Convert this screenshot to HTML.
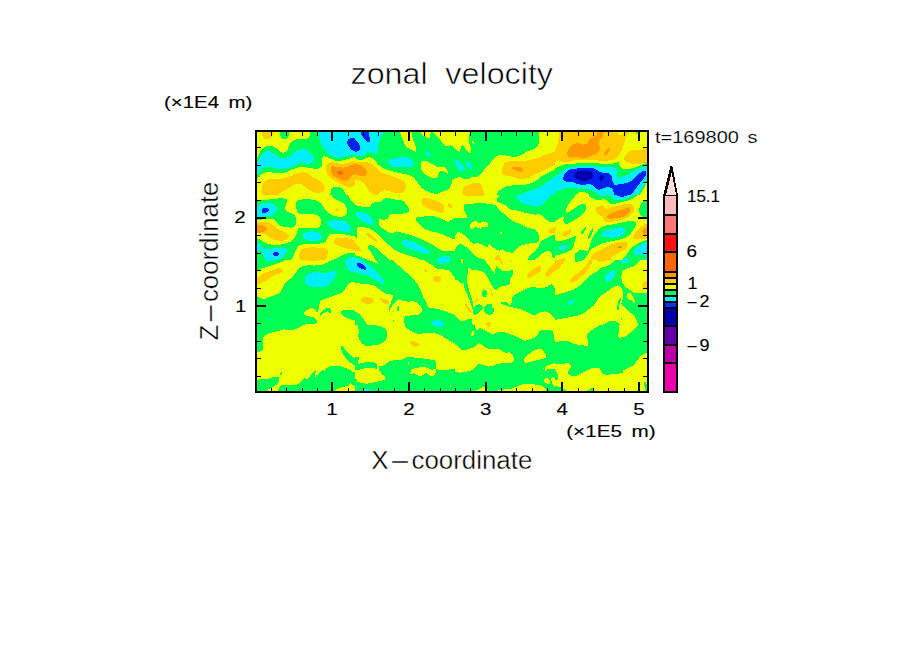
<!DOCTYPE html>
<html><head><meta charset="utf-8"><title>zonal velocity</title>
<style>
html,body{margin:0;padding:0;background:#fff;}
body{width:904px;height:654px;overflow:hidden;position:relative;font-family:"Liberation Sans",sans-serif;}
svg{position:absolute;left:0;top:0;display:block}
text{font-family:"Liberation Sans",sans-serif;fill:#000}
.thin text{stroke:#fff;stroke-width:0.6px}
.med text{stroke:#000;stroke-width:0.12px}
</style></head><body>
<svg width="904" height="654" viewBox="0 0 904 654">
<defs><clipPath id="pc"><rect x="256" y="131" width="392" height="261"/></clipPath></defs>
<g clip-path="url(#pc)" shape-rendering="crispEdges">
<rect x="256" y="131" width="392" height="261" fill="#00ff55"/>
<defs><clipPath id="t0"><rect x="255" y="130" width="100" height="65"/></clipPath><clipPath id="t1"><rect x="355" y="130" width="100" height="65"/></clipPath><clipPath id="t2"><rect x="455" y="130" width="100" height="65"/></clipPath><clipPath id="t3"><rect x="555" y="130" width="100" height="65"/></clipPath><clipPath id="t4"><rect x="255" y="195" width="100" height="65"/></clipPath><clipPath id="t5"><rect x="355" y="195" width="100" height="65"/></clipPath><clipPath id="t6"><rect x="455" y="195" width="100" height="65"/></clipPath><clipPath id="t7"><rect x="555" y="195" width="100" height="65"/></clipPath><clipPath id="t8"><rect x="255" y="260" width="100" height="65"/></clipPath><clipPath id="t9"><rect x="355" y="260" width="100" height="65"/></clipPath><clipPath id="t10"><rect x="455" y="260" width="100" height="65"/></clipPath><clipPath id="t11"><rect x="555" y="260" width="100" height="65"/></clipPath><clipPath id="t12"><rect x="255" y="325" width="100" height="70"/></clipPath><clipPath id="t13"><rect x="355" y="325" width="100" height="70"/></clipPath><clipPath id="t14"><rect x="455" y="325" width="100" height="70"/></clipPath><clipPath id="t15"><rect x="555" y="325" width="100" height="70"/></clipPath></defs>
<g clip-path="url(#t0)">
<rect x="255" y="130" width="100" height="65" fill="#eeff00"/>
<path fill="#00ff55" d="M250.6,159.9C251.7,156.0 255.7,158.9 257.2,157.7C258.7,156.5 258.3,154.3 259.4,152.7C260.5,151.0 262.2,148.8 263.8,147.7C265.5,146.6 267.5,146.1 269.4,146.0C271.2,145.9 273.3,146.3 274.9,147.1C276.6,148.0 278.0,150.1 279.3,151.0C280.7,151.9 281.9,152.8 283.2,152.7C284.5,152.6 285.9,152.0 287.1,150.5C288.3,148.9 289.3,144.9 290.4,143.3C291.5,141.6 292.2,141.2 293.7,140.5C295.2,139.8 297.0,139.1 299.2,138.8C301.5,138.6 305.2,139.4 307.0,138.8C308.7,138.3 309.3,136.7 309.8,135.5C310.3,134.4 309.9,133.7 310.0,132.0C310.0,130.3 301.6,126.6 310.0,125.6C318.3,124.5 351.7,120.3 360.1,125.6C368.4,130.8 360.9,151.8 360.1,157.1C359.2,162.4 356.3,157.0 355.0,157.1C353.7,157.2 353.5,157.3 352.3,157.7C351.2,158.0 349.6,158.5 347.9,159.0C346.3,159.4 344.2,160.1 342.4,160.4C340.5,160.8 338.5,161.2 336.9,161.0C335.2,160.8 334.1,160.0 332.4,159.3C330.8,158.7 328.5,157.6 326.9,157.1C325.3,156.6 323.9,155.7 323.0,156.5C322.2,157.4 322.2,160.4 321.9,162.1C321.6,163.7 322.2,165.4 321.4,166.5C320.5,167.6 318.8,168.4 316.9,168.7C315.1,169.0 312.3,168.4 310.3,168.2C308.3,167.9 306.6,167.2 304.8,167.1C302.9,166.9 301.3,166.7 299.2,167.1C297.2,167.4 294.6,168.4 292.6,169.3C290.6,170.1 289.1,171.4 287.1,172.0C285.1,172.7 282.5,173.2 280.4,173.4C278.4,173.5 276.8,173.1 274.9,172.9C273.1,172.7 271.0,172.3 269.4,172.3C267.7,172.2 266.2,172.3 265.0,172.6C263.7,172.9 262.9,173.2 261.6,174.2C260.3,175.3 259.1,177.6 257.2,178.7C255.4,179.8 251.7,184.0 250.6,180.9C249.5,177.8 249.5,163.7 250.6,159.9Z"/>
<path fill="#ffcc00" d="M262.2,128.9C263.9,127.9 270.9,128.0 272.7,128.9C274.5,129.8 273.0,132.9 272.7,134.4C272.4,135.9 272.0,136.9 271.0,137.7C270.1,138.6 268.4,139.3 267.2,139.4C266.0,139.5 264.7,139.0 263.8,138.3C263.0,137.6 262.5,136.5 262.2,135.0C261.9,133.4 260.4,129.9 262.2,128.9Z"/>
<path fill="#00ff55" d="M279.9,128.9C281.4,128.0 287.8,127.9 289.3,128.9C290.8,129.9 289.4,133.4 289.1,135.0C288.7,136.6 287.9,137.9 287.1,138.6C286.2,139.4 284.9,139.6 284.0,139.4C283.1,139.3 282.2,138.6 281.5,137.7C280.9,136.9 280.5,135.9 280.2,134.4C279.9,132.9 278.4,129.8 279.9,128.9Z"/>
<path fill="#00eeff" d="M251.7,162.1C252.6,159.9 255.6,163.2 257.2,162.1C258.9,161.0 260.2,157.2 261.6,155.4C263.1,153.7 264.7,152.3 266.1,151.6C267.4,150.9 268.6,150.9 269.9,151.2C271.2,151.6 272.4,152.8 273.8,153.8C275.2,154.8 276.6,156.4 278.2,157.1C279.9,157.8 281.9,158.3 283.8,158.2C285.6,158.1 287.4,157.6 289.3,156.5C291.1,155.5 293.2,153.3 294.8,152.1C296.5,151.0 297.8,150.2 299.2,149.7C300.7,149.2 302.2,148.9 303.7,149.0C305.1,149.2 306.8,149.7 308.1,150.5C309.4,151.3 310.5,152.6 311.4,153.8C312.3,155.0 313.2,156.5 313.6,157.7C314.1,158.9 314.6,160.1 314.2,161.0C313.8,161.9 312.6,162.7 311.4,163.2C310.2,163.6 308.7,163.7 307.0,163.7C305.3,163.7 303.1,163.1 301.5,163.2C299.8,163.3 298.7,163.6 297.0,164.3C295.4,164.9 293.3,166.3 291.5,167.1C289.7,167.8 288.0,168.3 286.0,168.7C283.9,169.1 281.4,169.5 279.3,169.3C277.3,169.1 275.6,168.0 273.8,167.6C272.0,167.2 270.1,167.0 268.3,167.1C266.4,167.1 264.2,167.5 262.7,168.2C261.3,168.8 260.3,169.9 259.4,170.9C258.5,171.9 258.5,173.5 257.2,174.2C255.9,175.0 252.6,177.4 251.7,175.4C250.8,173.3 250.8,164.3 251.7,162.1Z"/>
<path fill="#00eeff" d="M318.1,125.6C311.0,126.6 317.7,129.4 318.1,132.0C318.4,134.6 319.3,138.4 320.3,141.1C321.2,143.7 322.3,145.7 323.6,147.7C324.9,149.7 326.5,151.8 328.0,153.2C329.5,154.6 331.0,155.3 332.4,156.0C333.9,156.7 335.2,157.5 336.9,157.7C338.5,157.8 340.4,157.4 342.4,157.1C344.4,156.8 346.9,156.0 349.0,155.7C351.1,155.3 353.2,155.1 355.0,154.9C356.8,154.7 359.2,159.4 360.1,154.6C360.9,149.7 367.1,130.4 360.1,125.6C353.1,120.7 325.1,124.5 318.1,125.6Z"/>
<path fill="#0022ee" d="M346.8,142.2C346.9,141.0 348.1,139.5 349.0,138.8C349.9,138.2 350.5,138.1 352.3,138.3C354.2,138.5 358.8,137.7 360.1,140.0C361.4,142.3 360.9,150.2 360.1,152.1C359.2,154.1 356.5,152.0 355.0,151.6C353.5,151.1 352.3,150.3 351.2,149.4C350.2,148.4 349.2,147.2 348.5,146.0C347.7,144.8 346.7,143.4 346.8,142.2Z"/>
<path fill="#ffcc00" d="M326.3,166.5C326.7,164.9 327.5,163.4 328.6,162.6C329.6,161.9 330.7,161.9 332.4,162.1C334.2,162.3 336.9,163.6 339.1,163.7C341.3,163.9 343.7,163.6 345.7,163.2C347.7,162.8 349.7,161.9 351.2,161.5C352.8,161.1 353.3,161.0 355.0,160.8C356.7,160.5 360.2,156.0 361.2,159.9C362.2,163.8 362.2,180.0 361.2,184.2C360.2,188.4 356.7,184.8 355.0,185.3C353.3,185.9 352.6,187.2 351.2,187.5C349.9,187.8 348.5,187.5 346.8,187.0C345.2,186.4 343.3,185.2 341.3,184.2C339.3,183.2 336.7,182.2 334.6,180.9C332.6,179.6 330.5,177.9 329.1,176.5C327.7,175.0 326.8,173.7 326.3,172.0C325.9,170.4 326.0,168.1 326.3,166.5Z"/>
<path fill="#ff9900" d="M330.8,168.7C331.0,167.6 331.1,166.8 332.4,166.5C333.8,166.2 337.2,166.9 339.1,167.1C340.9,167.2 341.7,167.8 343.5,167.6C345.3,167.4 348.2,166.6 350.1,166.0C352.1,165.3 353.2,164.4 355.0,163.7C356.8,163.1 360.2,160.7 361.2,162.1C362.2,163.5 362.2,170.1 361.2,172.0C360.2,174.0 356.7,173.0 355.0,173.7C353.3,174.4 352.4,175.4 351.2,176.5C350.1,177.6 349.4,179.7 347.9,180.3C346.4,181.0 344.4,180.8 342.4,180.3C340.4,179.9 337.6,178.8 335.8,177.6C333.9,176.4 332.2,174.6 331.3,173.1C330.5,171.7 330.6,169.8 330.8,168.7Z"/>
<path fill="#ff6600" d="M337.4,172.6C337.5,172.1 337.9,171.4 338.5,171.2C339.2,170.9 340.5,170.7 341.3,170.9C342.0,171.2 342.8,172.0 342.9,172.6C343.1,173.2 342.9,174.1 342.4,174.5C341.8,174.8 340.4,174.9 339.6,174.8C338.9,174.7 338.3,174.4 338.0,174.0C337.6,173.7 337.3,173.1 337.4,172.6Z"/>
<path fill="#ffcc00" d="M261.6,188.6C261.8,187.0 262.0,185.6 262.7,184.2C263.5,182.8 264.4,181.3 266.1,180.3C267.7,179.4 270.3,178.9 272.7,178.7C275.1,178.4 277.9,178.9 280.4,178.7C283.0,178.4 285.8,177.8 288.2,177.0C290.6,176.3 292.6,175.0 294.8,174.2C297.0,173.5 299.4,172.6 301.5,172.4C303.5,172.2 305.1,172.5 307.0,173.1C308.8,173.8 310.7,175.4 312.5,176.5C314.4,177.6 316.4,178.8 318.1,179.8C319.7,180.8 321.4,181.4 322.5,182.5C323.6,183.7 324.4,185.1 324.7,186.4C325.0,187.7 324.7,189.3 324.1,190.3C323.6,191.3 322.6,192.0 321.4,192.5C320.2,193.0 318.6,193.2 316.9,193.1C315.3,192.9 313.3,192.3 311.4,191.4C309.6,190.5 307.5,188.7 305.9,187.5C304.2,186.3 302.8,184.8 301.5,184.2C300.2,183.6 299.6,183.4 298.1,183.7C296.7,183.9 294.5,184.9 292.6,185.9C290.8,186.8 288.9,188.1 287.1,189.2C285.2,190.3 283.2,191.3 281.5,192.5C279.9,193.7 278.8,195.0 277.1,196.4C275.5,197.8 273.8,200.1 271.6,200.8C269.4,201.5 265.5,201.9 263.8,200.8C262.2,199.7 262.0,196.2 261.6,194.2C261.3,192.1 261.5,190.3 261.6,188.6Z"/>
<path fill="#00ff55" d="M331.3,189.7C331.9,187.4 333.2,187.3 334.6,187.0C336.1,186.6 338.7,187.0 340.2,187.5C341.7,188.1 342.4,188.8 343.5,190.3C344.6,191.8 346.3,194.6 346.8,196.4C347.4,198.1 349.4,200.1 346.8,200.8C344.2,201.5 333.9,202.6 331.3,200.8C328.7,199.0 330.8,192.0 331.3,189.7Z"/>
</g>
<g clip-path="url(#t1)">
<rect x="355" y="130" width="100" height="65" fill="#00ff55"/>
<path fill="#00eeff" d="M383.8,125.6C389.3,126.6 384.2,130.1 383.8,132.0C383.3,133.8 381.8,134.9 381.0,136.6C380.2,138.3 379.2,140.3 378.8,142.2C378.3,144.0 378.4,145.8 378.2,147.7C378.0,149.6 378.4,152.9 377.7,153.8C376.9,154.7 375.2,153.5 373.8,153.2C372.4,153.0 370.7,152.2 369.4,152.1C368.1,152.0 367.0,152.1 366.1,152.7C365.1,153.2 365.0,154.9 363.8,155.4C362.7,155.9 360.9,155.6 359.4,155.7C357.9,155.7 356.5,155.7 355.0,155.7C353.5,155.7 351.3,160.7 350.6,155.7C349.8,150.6 345.0,130.6 350.6,125.6C356.1,120.6 378.2,124.5 383.8,125.6Z"/>
<path fill="#0022ee" d="M361.1,127.8C360.0,129.0 361.0,133.0 361.6,135.0C362.3,136.9 363.9,138.2 365.0,139.4C366.0,140.6 366.9,142.1 367.7,142.4C368.6,142.7 369.7,142.0 369.9,141.1C370.2,140.1 369.7,138.8 369.4,136.6C369.1,134.4 369.7,129.3 368.3,127.8C366.9,126.3 362.2,126.6 361.1,127.8Z"/>
<path fill="#0022ee" d="M350.6,139.4C351.3,137.5 353.7,139.4 355.0,140.0C356.3,140.5 357.5,141.6 358.3,142.7C359.1,143.8 359.8,145.3 360.0,146.6C360.2,147.9 360.0,149.6 359.4,150.5C358.9,151.3 358.1,151.4 356.7,151.6C355.2,151.8 351.6,153.6 350.6,151.6C349.6,149.5 349.8,141.3 350.6,139.4Z"/>
<path fill="#eeff00" d="M350.6,158.2C351.3,151.1 353.5,157.9 355.0,158.2C356.5,158.5 357.9,159.7 359.4,159.9C360.9,160.1 362.6,159.7 363.8,159.3C365.1,158.9 366.1,158.0 367.2,157.7C368.3,157.3 369.4,156.8 370.5,157.1C371.6,157.4 372.7,158.3 373.8,159.3C374.9,160.3 375.8,161.9 377.1,163.2C378.4,164.5 379.9,166.0 381.5,167.1C383.2,168.2 385.2,169.1 387.1,169.8C388.9,170.6 390.6,170.9 392.6,171.5C394.6,172.0 397.0,172.7 399.2,173.1C401.5,173.6 403.9,173.8 405.9,174.2C407.9,174.7 409.9,175.2 411.4,175.9C412.9,176.6 413.6,177.5 414.7,178.7C415.8,179.9 416.9,181.6 418.1,183.1C419.2,184.6 420.1,186.2 421.4,187.5C422.7,188.8 424.0,189.9 425.8,190.8C427.6,191.8 430.6,192.5 432.4,193.1C434.3,193.6 435.4,194.3 436.9,194.2C438.3,194.0 439.6,192.6 441.3,191.9C442.9,191.3 445.2,191.4 446.8,190.3C448.5,189.2 450.4,186.9 451.2,185.3C452.1,183.7 451.2,182.0 451.8,180.9C452.4,179.8 453.6,179.2 455.0,178.7C456.4,178.1 459.2,173.9 460.1,177.6C460.9,181.3 478.3,196.9 460.1,200.8C441.8,204.7 368.8,207.9 350.6,200.8C332.3,193.7 349.8,165.3 350.6,158.2Z"/>
<path fill="#ffcc00" d="M350.6,161.5C351.3,158.5 353.3,161.4 355.0,161.5C356.7,161.6 358.7,162.0 360.5,162.1C362.4,162.2 364.2,161.8 366.1,162.1C367.9,162.4 369.9,162.8 371.6,163.7C373.3,164.7 374.5,166.3 376.0,167.6C377.5,168.9 378.8,170.4 380.4,171.5C382.1,172.6 383.9,173.4 386.0,174.2C388.0,175.1 390.6,175.8 392.6,176.5C394.6,177.1 396.3,177.4 398.1,178.1C400.0,178.9 402.4,179.7 403.7,180.9C405.0,182.1 405.6,183.8 405.9,185.3C406.2,186.8 405.9,188.5 405.3,189.7C404.8,190.9 403.9,191.9 402.6,192.5C401.2,193.1 398.9,193.1 397.0,193.1C395.2,193.0 393.5,192.4 391.5,191.9C389.5,191.5 386.7,190.3 384.9,190.3C383.0,190.3 381.7,191.2 380.4,191.9C379.2,192.7 378.4,194.7 377.1,195.0C375.8,195.4 374.0,194.8 372.7,194.2C371.4,193.6 370.5,192.7 369.4,191.4C368.3,190.1 367.2,187.9 366.1,186.4C365.0,184.9 364.0,183.6 362.7,182.5C361.5,181.5 359.6,180.8 358.3,180.3C357.0,179.9 356.3,179.9 355.0,179.8C353.7,179.7 351.3,182.8 350.6,179.8C349.8,176.7 349.8,164.6 350.6,161.5Z"/>
<path fill="#ff9900" d="M350.6,164.3C351.3,162.7 353.5,164.2 355.0,164.3C356.5,164.4 357.9,164.3 359.4,164.8C360.9,165.4 362.7,166.6 363.8,167.6C365.0,168.6 366.2,169.6 366.6,170.9C367.1,172.2 367.3,174.4 366.6,175.4C366.0,176.3 364.1,176.5 362.7,176.5C361.4,176.5 359.6,175.7 358.3,175.4C357.0,175.0 356.3,174.5 355.0,174.2C353.7,174.0 351.3,175.4 350.6,173.7C349.8,172.0 349.8,165.9 350.6,164.3Z"/>
<path fill="#00eeff" d="M388.2,159.3C389.0,158.9 391.1,159.3 392.6,159.0C394.1,158.7 395.6,158.0 397.0,157.7C398.5,157.3 400.0,157.2 401.5,157.1C402.9,157.0 404.6,156.6 405.9,156.8C407.2,157.0 408.2,157.6 409.2,158.2C410.2,158.8 411.2,159.5 412.0,160.4C412.7,161.3 413.4,162.8 413.6,163.7C413.8,164.7 413.8,165.4 413.1,166.0C412.3,166.5 410.8,166.8 409.2,167.1C407.6,167.3 405.5,167.4 403.7,167.4C401.8,167.4 400.0,167.2 398.1,167.1C396.3,166.9 394.1,167.0 392.6,166.5C391.1,166.0 390.1,165.1 389.3,164.3C388.5,163.5 388.1,162.4 388.0,161.5C387.8,160.7 387.4,159.7 388.2,159.3Z"/>
<path fill="#00eeff" d="M425.8,149.9C426.1,149.6 426.8,149.9 427.5,150.5C428.1,151.0 429.1,152.4 429.7,153.2C430.2,154.1 430.9,154.9 430.8,155.4C430.7,156.0 429.8,156.9 429.1,156.8C428.5,156.7 427.5,155.7 426.9,154.9C426.3,154.1 426.0,153.0 425.8,152.1C425.6,151.3 425.5,150.2 425.8,149.9Z"/>
<path fill="#eeff00" d="M399.8,127.8C398.2,129.1 400.3,133.3 400.9,135.5C401.6,137.7 402.9,139.3 403.7,141.1C404.4,142.8 404.4,144.7 405.3,146.0C406.3,147.3 407.8,148.0 409.2,148.8C410.6,149.6 412.5,150.6 413.6,151.0C414.7,151.5 415.5,152.3 415.8,151.6C416.2,150.8 416.1,148.2 415.8,146.6C415.6,145.0 414.8,143.8 414.2,142.2C413.5,140.5 412.6,139.0 412.0,136.6C411.3,134.2 412.3,129.3 410.3,127.8C408.3,126.3 401.4,126.5 399.8,127.8Z"/>
<path fill="#eeff00" d="M420.3,127.8C418.6,128.5 419.9,130.8 420.3,132.0C420.6,133.2 421.6,134.2 422.5,135.0C423.4,135.8 424.7,136.1 425.8,136.6C426.9,137.2 428.4,138.5 429.1,138.3C429.9,138.1 430.0,137.3 430.2,135.5C430.4,133.8 431.9,129.1 430.2,127.8C428.6,126.5 421.9,127.1 420.3,127.8Z"/>
<path fill="#eeff00" d="M433.0,125.6C428.5,126.6 432.5,130.3 433.0,132.0C433.4,133.7 434.6,134.2 435.8,135.5C437.0,136.9 438.9,138.5 440.2,140.0C441.5,141.4 442.4,143.3 443.5,144.4C444.6,145.5 445.7,146.4 446.8,146.6C447.9,146.8 449.2,145.6 450.1,145.5C451.1,145.4 451.5,145.6 452.3,146.0C453.2,146.5 453.7,147.6 455.0,148.3C456.3,148.9 459.2,153.7 460.1,149.9C460.9,146.1 464.6,129.6 460.1,125.6C455.6,121.5 437.5,124.5 433.0,125.6Z"/>
<path fill="#eeff00" d="M421.4,162.1C422.0,161.0 423.4,160.9 424.7,161.0C426.0,161.1 427.5,161.9 429.1,162.6C430.8,163.4 433.0,164.7 434.6,165.4C436.3,166.1 437.8,166.9 439.1,167.1C440.4,167.2 441.4,166.4 442.4,166.5C443.4,166.6 444.3,166.9 445.2,167.6C446.0,168.3 446.9,169.9 447.4,170.9C447.8,171.9 448.3,173.5 447.9,173.7C447.6,173.9 446.1,172.5 445.2,172.0C444.2,171.6 443.3,170.9 442.4,170.9C441.5,170.9 440.4,171.3 439.6,172.0C438.9,172.8 438.4,174.4 438.0,175.4C437.5,176.3 438.0,177.2 436.9,177.6C435.8,177.9 433.2,178.0 431.3,177.6C429.5,177.1 427.3,175.7 425.8,174.8C424.3,173.9 423.3,173.2 422.5,172.0C421.7,170.8 421.3,169.3 421.2,167.6C421.0,166.0 420.8,163.2 421.4,162.1Z"/>
</g>
<g clip-path="url(#t2)">
<rect x="455" y="130" width="100" height="65" fill="#00ff55"/>
<path fill="#eeff00" d="M450.6,125.6C453.8,121.9 466.7,124.5 469.9,125.6C473.2,126.6 470.1,130.0 469.9,132.0C469.7,134.0 468.9,135.9 468.8,137.7C468.7,139.6 469.0,141.4 469.4,143.3C469.7,145.1 470.8,147.2 471.0,148.8C471.3,150.4 471.4,152.0 471.0,152.7C470.7,153.3 469.7,153.2 468.8,152.7C468.0,152.1 467.0,150.6 466.1,149.4C465.1,148.2 464.0,146.1 463.3,145.5C462.6,144.8 462.3,144.8 461.9,145.5C461.4,146.1 460.8,148.3 460.5,149.4C460.2,150.5 460.5,151.9 460.0,152.1C459.4,152.3 458.0,151.0 457.2,150.5C456.4,149.9 456.1,149.3 455.0,148.8C453.9,148.3 451.3,151.6 450.6,147.7C449.8,143.8 447.3,129.3 450.6,125.6Z"/>
<path fill="#eeff00" d="M472.1,141.6C472.3,141.2 473.5,140.7 473.8,141.1C474.1,141.4 474.2,143.4 474.0,143.8C473.8,144.2 473.0,143.9 472.7,143.5C472.4,143.1 472.0,142.0 472.1,141.6Z"/>
<path fill="#00eeff" d="M450.6,159.0C451.3,158.3 453.8,158.8 455.0,159.0C456.2,159.1 456.7,159.0 457.8,159.9C458.9,160.8 460.4,162.9 461.6,164.3C462.8,165.7 464.6,167.1 465.0,168.2C465.3,169.2 464.6,170.0 463.8,170.4C463.1,170.8 461.5,171.2 460.5,170.7C459.5,170.2 458.7,168.7 457.8,167.6C456.8,166.5 456.2,165.0 455.0,164.3C453.8,163.6 451.3,164.1 450.6,163.2C449.8,162.3 449.8,159.7 450.6,159.0Z"/>
<path fill="#00eeff" d="M466.6,161.5C467.1,161.0 468.1,160.6 468.8,161.2C469.6,161.7 470.5,163.7 471.0,164.8C471.6,166.0 472.3,167.5 472.1,168.2C472.0,168.8 470.7,169.1 469.9,168.9C469.2,168.8 468.4,167.8 467.7,167.1C467.1,166.3 466.2,165.2 466.1,164.3C465.9,163.4 466.2,162.0 466.6,161.5Z"/>
<path fill="#eeff00" d="M450.6,178.7C451.3,175.0 453.5,178.9 455.0,178.7C456.5,178.4 457.9,177.0 459.4,177.0C460.9,177.0 462.4,178.4 463.8,178.7C465.3,178.9 466.8,178.9 468.3,178.7C469.7,178.4 471.2,177.4 472.7,177.0C474.2,176.6 475.6,177.1 477.1,176.5C478.6,175.8 480.3,174.4 481.5,173.1C482.8,171.9 483.6,170.2 484.9,168.7C486.2,167.2 487.9,165.9 489.3,164.3C490.7,162.7 491.9,160.8 493.2,159.3C494.5,157.9 495.7,156.3 497.0,155.7C498.4,155.0 499.8,155.2 501.5,155.2C503.1,155.2 505.1,155.4 507.0,155.7C508.8,155.9 510.9,156.6 512.5,156.8C514.2,156.9 515.5,156.9 516.9,156.5C518.4,156.2 519.7,155.7 521.4,154.9C523.0,154.1 525.1,152.4 526.9,151.6C528.7,150.7 530.7,150.7 532.4,149.9C534.2,149.1 536.3,148.1 537.4,146.6C538.5,145.1 538.8,143.5 539.1,141.1C539.3,138.6 539.1,134.6 539.1,132.0C539.1,129.4 534.8,126.6 539.1,125.6C543.3,124.5 560.3,118.8 564.5,125.6C568.8,132.4 565.5,159.5 564.5,166.5C563.5,173.5 560.3,166.8 558.5,167.4C556.8,168.0 555.7,169.1 553.9,170.0C552.1,171.0 549.8,172.2 547.7,173.3C545.6,174.3 543.3,175.2 541.5,176.3C539.7,177.5 538.3,179.1 536.7,180.2C535.2,181.3 534.0,182.2 532.2,182.9C530.4,183.6 528.6,184.1 526.0,184.5C523.4,184.9 519.8,185.0 516.7,185.2C513.6,185.4 509.8,185.5 507.4,186.0C505.1,186.4 504.2,187.0 502.7,188.0C501.1,188.9 499.1,190.7 498.0,191.8C497.0,193.0 496.8,193.6 496.5,195.0C496.1,196.5 503.6,199.8 495.9,200.8C488.3,201.8 458.1,204.5 450.6,200.8C443.0,197.1 449.8,182.4 450.6,178.7Z"/>
<path fill="#ffcc00" d="M502.3,169.4C502.5,167.8 502.9,166.0 503.5,164.7C504.0,163.5 503.9,162.6 505.8,162.0C507.6,161.4 511.3,161.4 514.4,161.2C517.5,161.0 521.7,161.0 524.4,160.8C527.1,160.5 528.2,160.5 530.6,160.0C532.9,159.5 536.0,158.6 538.4,157.7C540.9,156.8 542.9,155.4 545.3,154.6C547.6,153.7 550.4,153.1 552.3,152.3C554.3,151.6 554.8,150.6 557.0,150.0C559.2,149.4 564.2,146.9 565.6,148.8C567.1,150.7 566.4,159.6 565.6,161.6C564.8,163.6 562.1,160.6 560.8,160.8C559.4,160.9 559.1,161.5 557.7,162.4C556.3,163.3 554.5,165.0 552.3,166.3C550.2,167.6 546.9,168.9 544.6,170.0C542.3,171.2 540.5,171.9 538.4,172.9C536.3,173.9 534.0,175.1 532.2,176.0C530.4,176.9 529.8,177.9 527.5,178.3C525.1,178.7 520.3,178.6 518.2,178.5C516.0,178.3 516.2,177.9 514.4,177.5C512.6,177.0 509.4,176.1 507.4,175.6C505.4,175.0 503.2,175.1 502.3,174.0C501.5,173.0 502.2,170.9 502.3,169.4Z"/>
<path fill="#ff9900" d="M512.0,168.2C511.9,167.7 513.0,167.1 514.4,166.9C515.8,166.8 519.2,167.0 520.6,167.4C522.0,167.7 522.7,168.4 522.9,169.0C523.2,169.7 522.8,170.8 522.1,171.3C521.5,171.7 520.2,171.9 519.0,171.7C517.9,171.5 516.2,170.4 515.1,169.8C513.9,169.2 512.1,168.6 512.0,168.2Z"/>
<path fill="#ffcc00" d="M463.3,200.8C459.8,198.6 462.8,190.0 463.3,187.5C463.8,185.0 464.7,186.5 466.1,185.9C467.4,185.2 469.9,184.1 471.6,183.7C473.3,183.2 474.5,183.1 476.0,183.1C477.5,183.1 479.3,182.9 480.4,183.7C481.5,184.4 482.1,186.1 482.7,187.5C483.2,188.9 483.5,189.7 483.8,191.9C484.0,194.2 487.4,199.3 484.0,200.8C480.6,202.3 466.7,203.0 463.3,200.8Z"/>
<path fill="#00eeff" d="M520.6,195.0C521.7,193.6 524.1,193.0 526.0,192.2C528.0,191.4 530.1,191.0 532.2,190.3C534.3,189.6 536.6,188.8 538.4,188.0C540.2,187.1 541.5,186.2 543.1,185.2C544.6,184.2 545.9,183.1 547.7,181.8C549.5,180.4 552.0,178.5 553.9,177.1C555.8,175.7 557.5,174.1 559.3,173.3C561.1,172.4 563.6,167.4 564.5,172.0C565.4,176.6 572.1,196.0 564.5,200.8C557.0,205.6 526.5,201.8 519.2,200.8C511.8,199.8 519.5,196.5 520.6,195.0Z"/>
</g>
<g clip-path="url(#t3)">
<rect x="555" y="130" width="100" height="65" fill="#eeff00"/>
<path fill="#ffcc00" d="M559.0,127.8C547.8,128.5 559.1,129.8 559.0,132.0C558.9,134.2 558.7,138.5 558.2,141.2C557.7,143.9 556.7,146.3 555.9,148.1C555.1,149.9 554.4,151.2 553.6,152.0C552.7,152.9 551.1,151.6 550.6,153.2C550.1,154.9 549.8,160.6 550.6,162.1C551.3,163.6 553.7,162.4 555.0,162.1C556.3,161.8 557.2,160.5 558.3,160.4C559.4,160.3 560.0,161.2 561.6,161.5C563.3,161.8 566.1,162.3 568.3,162.1C570.5,161.9 572.5,160.8 574.9,160.4C577.3,160.1 580.1,159.9 582.7,159.9C585.2,159.9 588.0,160.3 590.4,160.4C592.8,160.5 595.0,160.2 597.0,160.4C599.1,160.6 600.7,161.5 602.6,161.5C604.4,161.5 606.3,160.7 608.1,160.4C609.9,160.1 612.2,160.1 613.6,159.6C615.1,159.2 615.8,158.7 616.9,157.7C618.1,156.6 619.3,154.7 620.3,153.2C621.2,151.8 621.8,150.5 622.5,148.8C623.1,147.1 623.6,145.1 624.1,143.3C624.7,141.4 625.2,139.2 625.8,137.7C626.3,136.3 627.4,136.1 627.5,134.4C627.5,132.8 637.8,128.9 626.3,127.8C614.9,126.7 570.2,127.1 559.0,127.8Z"/>
<path fill="#eeff00" d="M618.1,128.9C617.1,129.6 617.7,132.3 618.1,133.3C618.4,134.3 619.4,134.8 620.3,135.0C621.1,135.2 622.4,135.4 623.0,134.4C623.6,133.4 624.6,129.8 623.8,128.9C623.0,128.0 619.0,128.2 618.1,128.9Z"/>
<path fill="#00ff55" d="M635.2,128.9C634.8,129.6 635.4,132.3 635.8,133.1C636.1,133.9 637.0,134.2 637.4,133.5C637.8,132.8 638.3,129.7 638.0,128.9C637.6,128.1 635.6,128.2 635.2,128.9Z"/>
<path fill="#ff9900" d="M568.3,150.5C568.7,149.3 569.0,148.1 569.9,147.0C570.8,146.0 572.3,144.9 573.7,144.3C575.1,143.6 576.9,143.0 578.5,143.1C580.0,143.1 581.4,144.7 583.0,144.7C584.5,144.7 586.7,143.9 587.7,143.1C588.8,142.2 588.4,140.6 589.2,139.6C589.9,138.7 591.1,137.9 592.3,137.3C593.4,136.7 595.2,136.5 596.2,135.8C597.1,135.0 597.4,134.0 597.7,132.7C598.0,131.3 596.8,128.6 597.7,127.8C598.6,127.0 602.4,126.3 603.2,127.8C604.1,129.3 603.4,134.7 602.8,136.6C602.2,138.6 600.5,138.5 599.8,139.4C599.1,140.3 598.7,141.0 598.7,142.2C598.7,143.4 599.7,145.1 599.8,146.6C599.9,148.1 599.7,149.8 599.2,151.0C598.8,152.2 598.1,153.0 597.0,153.8C595.9,154.5 594.1,154.9 592.6,155.4C591.1,156.0 589.7,156.6 588.2,157.1C586.7,157.6 585.6,158.2 583.8,158.2C581.9,158.2 579.2,157.2 577.1,157.1C575.1,157.0 573.1,157.7 571.6,157.7C570.1,157.6 569.0,157.2 568.3,156.5C567.5,155.9 567.2,154.8 567.2,153.8C567.2,152.8 567.8,151.6 568.3,150.5Z"/>
<path fill="#ff9900" d="M604.2,154.9C604.1,154.2 604.8,152.6 605.3,151.6C605.9,150.6 606.8,149.4 607.5,148.8C608.3,148.3 609.5,147.9 609.8,148.3C610.0,148.6 609.6,150.1 609.2,151.0C608.8,151.9 608.1,153.0 607.5,153.8C607.0,154.6 606.4,155.8 605.9,156.0C605.3,156.2 604.3,155.6 604.2,154.9Z"/>
<path fill="#ffcc00" d="M624.1,158.2C624.2,157.0 625.0,155.4 625.8,154.3C626.6,153.2 627.8,152.3 629.1,151.6C630.4,150.8 631.9,150.1 633.5,149.9C635.2,149.7 637.4,150.6 639.1,150.5C640.7,150.3 642.2,149.2 643.5,148.8C644.8,148.4 645.5,148.3 646.8,148.3C648.1,148.2 650.5,145.9 651.2,148.3C652.0,150.6 652.0,159.7 651.2,162.1C650.5,164.5 648.3,162.4 646.8,162.6C645.3,162.8 644.0,162.9 642.4,163.2C640.7,163.5 638.5,164.2 636.9,164.3C635.2,164.4 633.9,164.0 632.4,163.7C631.0,163.5 629.2,163.0 628.0,162.6C626.8,162.3 625.9,162.3 625.2,161.5C624.6,160.8 624.0,159.4 624.1,158.2Z"/>
<path fill="#00ff55" d="M550.6,168.7C551.3,163.4 553.5,169.1 555.0,168.7C556.5,168.3 557.6,167.2 559.4,166.5C561.3,165.8 563.8,164.8 566.1,164.3C568.3,163.8 569.9,163.9 572.7,163.7C575.5,163.6 579.2,163.3 582.7,163.2C586.2,163.1 590.4,163.1 593.7,163.2C597.0,163.3 599.8,163.6 602.6,163.7C605.3,163.8 608.1,163.8 610.3,163.7C612.5,163.6 614.5,163.5 615.8,163.2C617.2,162.9 618.0,161.7 618.6,162.1C619.3,162.4 619.3,164.4 619.7,165.4C620.2,166.4 620.4,167.5 621.4,168.2C622.4,168.8 624.0,169.3 625.8,169.3C627.6,169.3 630.2,168.7 632.4,168.2C634.6,167.6 636.7,166.9 639.1,166.0C641.5,165.0 644.8,163.4 646.8,162.6C648.8,161.9 650.5,155.2 651.2,161.5C652.0,167.9 668.0,194.3 651.2,200.8C634.5,207.3 567.4,206.1 550.6,200.8C533.8,195.4 549.8,174.1 550.6,168.7Z"/>
<path fill="#00eeff" d="M550.6,178.7C551.3,176.1 553.4,177.3 555.0,176.3C556.6,175.4 558.7,174.2 560.3,173.1C561.9,172.0 563.3,170.7 564.7,169.7C566.2,168.8 567.3,168.1 569.2,167.5C571.0,166.9 574.1,166.7 575.8,166.4C577.5,166.1 577.3,166.1 579.3,166.0C581.4,165.8 585.2,165.5 588.2,165.6C591.1,165.7 594.3,166.3 597.0,166.5C599.8,166.7 602.4,167.0 604.8,167.1C607.2,167.1 609.7,167.0 611.4,167.1C613.2,167.1 614.4,166.9 615.3,167.6C616.2,168.3 616.6,170.0 616.9,171.5C617.3,173.0 616.9,175.4 617.5,176.5C618.1,177.5 618.9,177.8 620.3,177.6C621.6,177.4 623.8,176.3 625.8,175.4C627.8,174.4 630.2,173.2 632.4,172.0C634.6,170.8 637.2,169.1 639.1,168.2C640.9,167.2 642.2,166.9 643.5,166.5C644.8,166.1 645.5,166.1 646.8,166.0C648.1,165.8 650.5,159.6 651.2,165.4C652.0,171.2 659.5,194.9 651.2,200.8C642.9,206.7 610.1,201.8 601.5,200.8C592.8,199.8 600.5,196.6 599.2,195.0C598.0,193.5 595.7,192.4 593.7,191.4C591.7,190.4 589.5,189.7 587.1,189.2C584.7,188.6 581.9,188.4 579.3,188.1C576.8,187.8 574.0,187.4 571.6,187.5C569.2,187.6 567.0,188.2 565.0,188.6C562.9,189.1 561.1,189.7 559.4,190.3C557.8,190.8 556.5,191.7 555.0,191.9C553.5,192.2 551.3,194.2 550.6,191.9C549.8,189.7 549.8,181.3 550.6,178.7Z"/>
<path fill="#0022ee" d="M563.3,178.7C563.3,177.6 563.8,175.5 564.4,174.2C565.0,173.0 566.2,171.8 567.2,170.9C568.2,170.1 568.8,169.7 570.5,169.3C572.1,168.9 574.7,168.7 577.1,168.5C579.5,168.3 582.5,168.2 584.9,168.2C587.3,168.1 589.7,168.0 591.5,168.2C593.3,168.3 594.6,168.7 595.9,169.3C597.2,169.8 598.1,170.9 599.2,171.5C600.4,172.0 601.3,172.4 602.6,172.6C603.9,172.8 605.7,172.3 607.0,172.6C608.3,172.9 609.5,173.4 610.3,174.2C611.1,175.1 611.6,176.4 612.0,177.6C612.3,178.8 612.1,180.2 612.5,181.4C613.0,182.6 613.6,184.3 614.7,184.8C615.8,185.2 617.3,184.5 619.2,184.2C621.0,183.9 623.8,183.7 625.8,183.1C627.8,182.5 629.9,181.8 631.3,180.9C632.8,180.0 633.5,178.7 634.6,177.6C635.8,176.5 636.8,175.2 638.0,174.2C639.2,173.3 640.7,172.4 641.8,171.8C642.9,171.3 643.9,170.8 644.6,170.9C645.3,171.1 646.2,171.7 646.3,172.6C646.4,173.5 645.8,175.3 645.2,176.5C644.5,177.7 643.4,178.5 642.4,179.8C641.4,181.1 640.2,182.7 639.1,184.2C638.0,185.7 636.9,187.2 635.8,188.6C634.6,190.1 633.4,191.8 632.4,193.1C631.5,194.3 631.0,195.1 630.2,196.4C629.5,197.7 630.6,200.1 628.0,200.8C625.4,201.5 617.0,201.8 614.7,200.8C612.4,199.8 614.5,196.8 614.2,195.0C613.9,193.3 613.7,191.5 613.1,190.3C612.4,189.0 611.5,188.0 610.3,187.5C609.1,187.1 607.2,187.3 605.9,187.5C604.6,187.7 603.7,188.3 602.6,188.6C601.5,189.0 600.4,189.7 599.2,189.7C598.1,189.7 596.9,189.3 595.9,188.6C595.0,188.0 594.8,186.6 593.7,185.9C592.6,185.1 591.0,184.4 589.3,184.2C587.6,184.0 585.6,184.8 583.8,184.8C581.9,184.8 579.9,184.6 578.2,184.2C576.6,183.8 575.5,182.9 573.8,182.5C572.1,182.2 569.8,182.3 568.3,182.0C566.7,181.7 565.2,181.4 564.4,180.9C563.6,180.3 563.3,179.8 563.3,178.7Z"/>
<path fill="#0000aa" d="M573.8,175.4C573.9,174.5 574.4,173.3 575.5,172.6C576.6,171.9 578.5,171.2 580.4,170.9C582.4,170.6 585.2,170.5 587.1,170.7C588.9,170.9 590.5,171.4 591.5,172.0C592.5,172.7 593.1,173.8 593.2,174.8C593.3,175.8 592.9,177.2 592.1,178.1C591.2,179.0 589.8,179.9 588.2,180.3C586.6,180.8 584.4,181.1 582.7,180.9C580.9,180.7 579.0,179.8 577.7,179.2C576.4,178.7 575.6,178.2 574.9,177.6C574.3,176.9 573.7,176.2 573.8,175.4Z"/>
<path fill="#0000aa" d="M599.2,177.6C599.2,176.7 599.8,175.8 600.4,175.4C600.9,174.9 602.0,174.5 602.6,174.8C603.2,175.1 603.9,176.2 603.9,177.0C603.9,177.8 603.2,179.2 602.6,179.8C602.0,180.4 600.9,181.0 600.4,180.7C599.8,180.3 599.2,178.5 599.2,177.6Z"/>
<path fill="#0000aa" d="M607.9,180.7L609.0,180.7L609.2,182.0L608.1,182.0Z"/>
<path fill="#00ff55" d="M638.0,195.0C638.7,193.1 640.2,191.0 641.3,189.2C642.4,187.4 643.7,185.7 644.6,184.2C645.5,182.7 645.7,181.3 646.8,180.3C647.9,179.4 650.5,175.3 651.2,178.7C652.0,182.1 653.6,197.1 651.2,200.8C648.8,204.5 639.1,201.8 636.9,200.8C634.6,199.8 637.2,197.0 638.0,195.0Z"/>
<path fill="#eeff00" d="M640.0,195.0C640.6,193.2 642.0,191.4 642.9,189.7C643.9,188.1 644.8,186.5 645.5,185.3C646.1,184.2 645.9,183.4 646.8,182.9C647.8,182.3 650.5,179.0 651.2,182.0C652.0,185.0 653.3,197.7 651.2,200.8C649.2,203.9 641.0,201.8 639.1,200.8C637.2,199.8 639.3,196.9 640.0,195.0Z"/>
<path fill="#eeff00" d="M576.0,196.4C574.2,195.8 577.1,193.8 578.2,193.1C579.3,192.3 581.2,191.7 582.7,191.7C584.1,191.7 586.0,192.3 587.1,193.1C588.2,193.8 591.1,195.8 589.3,196.4C587.4,196.9 577.9,196.9 576.0,196.4Z"/>
</g>
<g clip-path="url(#t4)">
<rect x="255" y="195" width="100" height="65" fill="#00ff55"/>
<path fill="#eeff00" d="M250.6,190.6C264.0,188.9 317.9,189.8 331.3,190.6C344.8,191.3 330.8,193.8 331.3,195.1C331.8,196.5 333.1,197.6 334.4,198.7C335.7,199.7 337.5,200.5 339.1,201.3C340.6,202.1 342.6,202.7 343.7,203.6C344.9,204.5 345.5,205.5 346.0,206.7C346.6,208.0 347.1,209.9 347.1,211.3C347.2,212.6 347.1,214.0 346.3,214.9C345.4,215.8 343.9,216.6 342.2,216.8C340.5,217.0 337.8,216.7 336.0,216.3C334.2,216.0 332.9,215.6 331.3,214.8C329.8,214.0 328.0,212.5 326.7,211.3C325.4,210.0 324.6,208.9 323.6,207.5C322.6,206.1 321.8,204.0 320.5,202.9C319.2,201.7 317.6,201.1 315.8,200.5C314.0,199.9 311.5,199.6 309.6,199.3C307.8,199.0 306.4,198.8 305.0,198.9C303.6,198.9 302.6,199.4 301.5,199.6C300.3,199.9 299.0,200.1 298.1,200.5C297.3,201.0 296.9,201.3 296.5,202.2C296.1,203.1 295.9,204.7 295.9,206.1C296.0,207.4 296.4,209.3 296.8,210.5C297.2,211.7 297.4,212.7 298.1,213.3C298.9,213.8 300.5,213.9 301.5,214.0C302.4,214.2 302.2,214.1 303.7,214.0C305.1,214.0 308.5,213.8 310.3,213.8C312.2,213.9 313.4,214.0 314.7,214.4C316.1,214.7 317.6,215.2 318.6,216.0C319.6,216.8 320.4,218.2 320.8,219.3C321.2,220.4 321.2,221.5 321.2,222.7C321.1,223.8 320.8,225.1 320.3,226.0C319.7,226.8 319.3,227.3 318.1,227.6C316.8,227.9 314.6,227.9 312.5,227.9C310.5,227.9 307.7,227.7 305.9,227.6C304.0,227.6 302.7,227.5 301.5,227.6C300.3,227.7 299.3,227.7 298.7,228.2C298.0,228.6 298.0,229.5 297.6,230.4C297.2,231.3 296.9,232.5 296.5,233.7C296.0,234.9 295.5,236.5 294.8,237.6C294.2,238.7 293.7,239.5 292.6,240.4C291.5,241.2 289.8,241.9 288.2,242.6C286.5,243.2 284.5,243.8 282.7,244.2C280.8,244.6 279.0,244.9 277.1,245.0C275.3,245.1 273.4,244.9 271.6,244.6C269.7,244.2 267.7,243.8 266.1,243.1C264.4,242.4 263.1,241.1 261.6,240.4C260.2,239.6 259.1,239.0 257.2,238.7C255.4,238.4 251.7,241.8 250.6,238.7C249.5,235.6 249.5,223.3 250.6,220.2C251.7,217.1 255.4,220.3 257.2,220.2C259.1,220.1 259.8,219.8 261.6,219.6C263.5,219.3 266.3,218.8 268.3,218.8C270.2,218.7 272.0,218.9 273.3,219.3C274.5,219.8 275.0,220.6 276.0,221.5C277.0,222.5 278.2,224.0 279.3,224.9C280.4,225.7 281.4,226.2 282.7,226.5C283.9,226.9 285.6,226.9 287.1,227.1C288.6,227.3 290.3,227.7 291.5,227.6C292.7,227.5 293.5,227.2 294.3,226.5C295.0,225.9 295.6,225.1 295.9,223.8C296.2,222.5 296.3,220.2 296.2,218.8C296.0,217.4 295.6,216.4 294.8,215.5C294.0,214.5 292.8,213.9 291.5,213.3C290.2,212.6 288.1,212.2 287.1,211.6C286.0,210.9 285.3,210.5 285.1,209.4C284.9,208.3 285.4,206.4 285.8,205.0C286.1,203.5 287.0,201.5 287.1,200.5C287.1,199.5 287.1,199.2 286.0,198.9C284.9,198.5 282.8,198.3 280.4,198.3C278.0,198.4 274.4,198.9 271.6,199.2C268.8,199.5 266.2,199.8 263.8,200.0C261.5,200.2 259.4,200.4 257.2,200.5C255.0,200.6 251.7,202.2 250.6,200.5C249.5,198.9 237.1,192.2 250.6,190.6Z"/>
<path fill="#ffcc00" d="M335.5,209.2C335.7,208.8 336.4,208.3 336.9,208.3C337.4,208.3 338.2,208.8 338.5,209.2C338.8,209.5 339.1,210.2 338.8,210.5C338.6,210.8 337.6,211.1 337.1,211.0C336.6,211.0 336.0,210.6 335.8,210.3C335.5,210.0 335.3,209.5 335.5,209.2Z"/>
<path fill="#ffcc00" d="M250.6,222.1C251.7,220.3 255.2,222.2 257.2,222.1C259.2,222.0 260.9,221.5 262.7,221.5C264.6,221.6 266.6,221.9 268.3,222.4C269.9,223.0 271.2,223.9 272.7,224.9C274.2,225.8 275.6,227.2 277.1,228.2C278.6,229.2 280.1,230.2 281.5,231.0C283.0,231.7 284.8,231.9 286.0,232.6C287.2,233.3 288.5,234.4 288.7,235.4C289.0,236.4 288.5,237.9 287.6,238.7C286.8,239.5 285.3,240.0 283.8,240.4C282.2,240.7 279.9,240.7 278.2,240.6C276.6,240.5 275.3,240.3 273.8,239.8C272.3,239.3 270.7,238.4 269.4,237.6C268.1,236.8 267.4,235.6 266.1,234.8C264.8,234.1 263.1,233.4 261.6,233.2C260.2,232.9 259.1,233.2 257.2,233.2C255.4,233.2 251.7,235.0 250.6,233.2C249.5,231.3 249.5,223.9 250.6,222.1Z"/>
<path fill="#ff9900" d="M250.6,224.9C251.7,223.6 255.4,225.1 257.2,225.1C259.1,225.1 260.3,224.8 261.6,225.1C263.0,225.3 264.6,225.9 265.5,226.5C266.4,227.1 266.9,228.0 266.9,228.7C266.9,229.5 266.4,230.3 265.5,231.0C264.6,231.6 263.0,232.1 261.6,232.4C260.3,232.7 259.1,232.8 257.2,232.8C255.4,232.9 251.7,234.2 250.6,232.8C249.5,231.5 249.5,226.2 250.6,224.9Z"/>
<path fill="#00eeff" d="M250.6,206.1C251.7,204.3 255.6,206.3 257.2,206.1C258.9,205.8 259.1,204.9 260.5,204.4C262.0,203.9 264.2,203.1 266.1,203.0C267.9,202.8 270.0,202.9 271.6,203.3C273.2,203.7 274.5,204.6 275.5,205.5C276.4,206.4 277.0,207.6 277.1,208.8C277.2,210.0 276.8,211.7 276.0,212.7C275.3,213.7 274.0,214.4 272.7,214.9C271.4,215.5 269.9,215.7 268.3,216.0C266.6,216.3 264.6,216.5 262.7,216.6C260.9,216.7 259.2,216.6 257.2,216.6C255.2,216.6 251.7,218.3 250.6,216.6C249.5,214.8 249.5,207.8 250.6,206.1Z"/>
<path fill="#0022ee" d="M261.9,210.5C261.9,209.9 262.1,209.3 262.7,208.8C263.4,208.4 264.6,208.0 265.5,207.9C266.4,207.9 267.7,207.9 268.3,208.3C268.9,208.6 269.3,209.4 269.2,209.9C269.1,210.5 268.4,211.1 267.7,211.6C267.0,212.1 265.8,212.6 265.0,212.7C264.1,212.8 263.0,212.8 262.5,212.5C262.0,212.1 261.8,211.1 261.9,210.5Z"/>
<path fill="#00eeff" d="M303.1,234.3C303.5,233.4 304.5,232.9 305.9,232.4C307.3,231.9 309.6,231.3 311.4,231.3C313.3,231.2 315.4,231.6 316.9,232.1C318.5,232.6 319.9,233.4 320.8,234.3C321.7,235.1 322.3,236.2 322.3,237.0C322.3,237.9 321.7,238.7 320.8,239.2C319.9,239.8 318.5,240.3 316.9,240.6C315.4,240.9 313.2,241.0 311.4,240.9C309.7,240.8 307.7,240.4 306.4,239.8C305.1,239.2 304.2,238.5 303.7,237.6C303.1,236.7 302.8,235.1 303.1,234.3Z"/>
<path fill="#00eeff" d="M328.0,222.7C328.2,221.8 328.9,221.1 330.2,220.7C331.5,220.2 333.7,219.9 335.8,219.9C337.8,219.9 340.5,220.2 342.4,220.7C344.2,221.1 345.5,221.8 346.8,222.7C348.1,223.5 349.4,224.9 350.1,226.0C350.8,227.1 351.2,228.4 351.0,229.3C350.8,230.2 350.3,231.1 349.0,231.5C347.8,231.9 345.3,231.7 343.5,231.5C341.7,231.3 339.8,230.9 338.0,230.4C336.1,229.9 333.9,229.5 332.4,228.7C331.0,228.0 329.9,227.0 329.1,226.0C328.4,225.0 327.8,223.5 328.0,222.7Z"/>
<path fill="#00eeff" d="M250.6,242.0C251.7,240.4 255.6,241.6 257.2,242.0C258.8,242.4 259.1,243.2 260.0,244.2C260.9,245.2 261.5,247.3 262.7,248.1C263.9,248.9 265.5,249.2 267.2,249.2C268.8,249.2 270.7,248.4 272.7,248.1C274.7,247.8 277.3,247.5 279.3,247.5C281.4,247.5 283.5,247.8 284.9,248.1C286.2,248.4 287.4,248.7 287.6,249.4C287.8,250.2 286.8,251.5 286.0,252.7C285.1,254.0 283.9,256.0 282.7,257.2C281.4,258.4 280.1,259.4 278.2,259.9C276.4,260.5 273.6,260.6 271.6,260.5C269.6,260.4 267.4,260.1 266.1,259.4C264.7,258.6 263.9,257.4 263.3,256.1C262.7,254.8 262.7,252.5 262.2,251.6C261.7,250.8 261.4,250.9 260.5,250.9C259.7,250.8 258.9,251.3 257.2,251.4C255.6,251.5 251.7,253.2 250.6,251.6C249.5,250.1 249.5,243.6 250.6,242.0Z"/>
<path fill="#0022ee" d="M272.7,253.6C272.9,253.1 273.6,252.2 274.4,252.0C275.1,251.7 276.3,251.7 277.1,252.0C277.9,252.2 278.9,253.0 279.1,253.6C279.3,254.2 278.8,255.2 278.2,255.6C277.6,256.0 276.3,256.2 275.5,256.2C274.6,256.1 273.7,255.7 273.3,255.3C272.8,254.9 272.5,254.2 272.7,253.6Z"/>
<path fill="#eeff00" d="M291.5,263.6C285.0,262.5 292.5,259.0 293.2,256.9C293.8,254.9 294.6,253.1 295.4,251.4C296.1,249.8 296.8,248.1 297.6,247.0C298.4,245.9 299.2,245.2 300.4,244.8C301.6,244.3 302.9,244.4 304.8,244.2C306.6,244.0 309.4,243.8 311.4,243.7C313.4,243.6 315.1,243.8 316.9,243.7C318.8,243.6 321.0,243.5 322.5,243.1C324.0,242.8 325.0,242.3 325.8,241.5C326.6,240.6 326.9,239.2 327.5,238.1C328.0,237.1 328.3,236.1 329.1,235.4C329.9,234.7 331.0,234.2 332.4,233.9C333.9,233.7 336.1,233.9 338.0,233.9C339.8,234.0 341.7,234.0 343.5,234.3C345.3,234.5 347.1,235.0 349.0,235.4C350.9,235.7 353.2,236.2 355.0,236.5C356.8,236.8 359.2,234.3 360.1,237.0C360.9,239.8 360.9,250.4 360.1,253.1C359.2,255.7 356.8,253.1 355.0,253.1C353.2,253.1 350.9,252.8 349.0,253.1C347.1,253.4 345.2,254.1 343.5,254.7C341.8,255.4 340.5,256.2 339.1,256.9C337.6,257.7 335.8,258.1 334.6,259.2C333.5,260.3 339.6,262.8 332.4,263.6C325.2,264.3 298.0,264.7 291.5,263.6Z"/>
<path fill="#ffcc00" d="M334.1,241.5C334.3,240.5 334.7,239.3 335.8,238.7C336.8,238.0 338.5,237.7 340.2,237.6C341.8,237.5 343.9,237.9 345.7,238.1C347.6,238.4 349.7,238.9 351.2,239.2C352.8,239.6 353.5,240.1 355.0,240.4C356.5,240.6 359.2,239.2 360.1,240.9C360.9,242.6 360.9,248.8 360.1,250.3C359.2,251.8 356.7,250.3 355.0,250.1C353.3,249.9 352.1,249.6 350.1,249.2C348.2,248.8 345.5,248.1 343.5,247.5C341.5,247.0 339.4,246.4 338.0,245.9C336.5,245.3 335.3,245.0 334.6,244.2C334.0,243.5 333.9,242.4 334.1,241.5Z"/>
<path fill="#ffcc00" d="M299.2,255.3C299.3,253.8 299.6,252.5 300.4,251.4C301.1,250.3 302.2,249.3 303.7,248.7C305.1,248.0 307.2,247.7 309.2,247.5C311.2,247.4 313.6,247.5 315.8,247.5C318.1,247.6 320.6,247.6 322.5,247.9C324.3,248.2 326.0,248.4 326.9,249.2C327.8,250.0 328.0,251.2 328.0,252.5C328.0,253.8 327.5,255.5 326.9,256.9C326.3,258.4 325.2,259.9 324.7,261.4C324.1,262.8 327.5,265.1 323.6,265.8C319.7,266.5 305.4,266.8 301.5,265.8C297.5,264.8 300.2,261.8 299.8,260.0C299.4,258.3 299.2,256.7 299.2,255.3Z"/>
<path fill="#00eeff" d="M346.8,261.4C344.8,260.8 347.2,258.8 347.9,258.1C348.7,257.3 350.1,257.2 351.2,256.9C352.4,256.7 353.5,256.8 355.0,256.7C356.5,256.7 359.2,256.0 360.1,256.7C360.9,257.5 362.3,260.6 360.1,261.4C357.9,262.1 348.8,261.9 346.8,261.4Z"/>
<path fill="#eeff00" d="M347.4,190.6C345.3,191.3 347.5,193.5 347.9,195.0C348.4,196.5 349.3,198.1 350.1,199.4C351.0,200.7 352.1,201.9 352.9,202.7C353.7,203.6 353.8,203.9 355.0,204.4C356.2,204.9 359.2,207.8 360.1,205.5C360.9,203.2 362.2,193.1 360.1,190.6C358.0,188.1 349.4,189.8 347.4,190.6Z"/>
</g>
<g clip-path="url(#t5)">
<rect x="355" y="195" width="100" height="65" fill="#eeff00"/>
<path fill="#00ff55" d="M350.6,204.4C351.3,199.0 353.5,204.7 355.0,205.0C356.5,205.2 357.8,205.7 359.4,206.1C361.1,206.4 363.2,207.1 365.0,207.2C366.7,207.3 368.8,207.2 369.9,206.6C371.0,206.1 370.8,204.6 371.6,203.8C372.4,203.1 373.4,202.6 374.9,202.2C376.4,201.8 379.0,202.2 380.4,201.6C381.9,201.1 382.5,199.5 383.8,198.9C385.1,198.3 386.5,198.0 388.2,198.1C389.8,198.2 391.7,199.1 393.7,199.4C395.7,199.7 398.7,199.6 400.4,200.0C402.0,200.3 402.7,200.8 403.7,201.6C404.7,202.5 405.6,203.8 406.4,205.0C407.3,206.1 408.3,207.2 408.7,208.3C409.0,209.4 409.1,210.8 408.7,211.6C408.2,212.4 407.3,212.6 405.9,212.9C404.5,213.3 402.2,213.6 400.4,213.8C398.5,214.0 396.5,214.3 394.8,214.4C393.2,214.5 391.5,213.9 390.4,214.4C389.3,214.8 388.7,216.3 388.2,217.1C387.6,218.0 388.0,218.9 387.1,219.3C386.2,219.7 383.9,219.5 382.7,219.6C381.4,219.6 380.0,218.9 379.3,219.6C378.7,220.2 378.7,222.0 378.8,223.2C378.9,224.4 379.1,225.5 379.9,226.5C380.7,227.5 382.4,228.4 383.8,229.3C385.1,230.2 386.7,231.4 388.2,232.1C389.7,232.7 391.3,233.3 392.6,233.2C393.9,233.0 394.5,231.4 395.9,231.3C397.4,231.2 399.4,232.1 401.5,232.6C403.5,233.1 405.9,233.6 408.1,234.3C410.3,234.9 412.5,235.7 414.7,236.5C416.9,237.3 419.2,238.2 421.4,239.2C423.6,240.3 425.8,241.5 428.0,242.6C430.2,243.7 432.8,244.8 434.6,245.9C436.5,247.0 437.6,248.4 439.1,249.2C440.5,250.0 441.7,250.5 443.5,250.9C445.3,251.2 448.2,251.3 450.1,251.4C452.1,251.5 453.3,251.4 455.0,251.4C456.7,251.4 459.2,249.0 460.1,251.4C460.9,253.8 465.4,263.4 460.1,265.8C454.7,268.2 433.5,266.2 428.0,265.8C422.5,265.4 428.0,264.2 426.9,263.3C425.8,262.3 423.4,260.9 421.4,259.9C419.3,258.9 417.1,258.0 414.7,257.2C412.3,256.3 409.6,255.8 407.0,255.0C404.4,254.1 401.3,252.9 399.2,252.1C397.2,251.2 396.3,250.8 394.8,249.8C393.3,248.8 391.9,247.3 390.4,246.1C388.9,244.9 387.4,243.9 386.0,242.6C384.5,241.2 383.0,239.6 381.5,238.1C380.1,236.7 378.6,235.0 377.1,233.7C375.6,232.4 374.2,231.3 372.7,230.4C371.2,229.5 369.9,228.7 368.3,228.2C366.6,227.7 364.4,227.4 362.7,227.3C361.1,227.2 359.3,227.0 358.3,227.3C357.4,227.6 357.2,227.7 357.0,229.3C356.8,230.9 357.3,235.7 357.0,237.0C356.7,238.4 356.1,237.2 355.0,237.3C353.9,237.3 351.3,242.7 350.6,237.3C349.8,231.8 349.8,209.8 350.6,204.4Z"/>
<path fill="#00eeff" d="M355.6,213.3C355.9,212.7 357.1,212.3 358.3,212.1C359.5,212.0 361.3,212.2 362.7,212.5C364.2,212.8 365.9,213.1 367.2,213.8C368.5,214.5 369.6,215.5 370.5,216.6C371.4,217.7 372.2,219.1 372.7,220.4C373.2,221.8 373.6,224.2 373.3,224.9C372.9,225.6 371.7,224.9 370.5,224.6C369.3,224.4 367.5,223.8 366.1,223.2C364.6,222.6 362.9,221.8 361.6,221.0C360.3,220.2 359.2,219.2 358.3,218.2C357.4,217.3 356.6,216.3 356.1,215.5C355.6,214.6 355.2,213.8 355.6,213.3Z"/>
<path fill="#00eeff" d="M402.0,241.5C402.2,240.8 402.7,240.3 403.7,240.1C404.7,240.0 406.4,240.3 408.1,240.6C409.8,240.9 411.8,241.3 413.6,242.0C415.5,242.7 417.3,243.8 419.2,244.8C421.0,245.8 423.0,247.0 424.7,248.1C426.3,249.2 428.2,250.5 429.1,251.4C430.0,252.3 430.6,253.0 430.2,253.4C429.9,253.8 428.4,254.0 426.9,253.8C425.4,253.7 423.2,253.0 421.4,252.5C419.5,252.0 417.7,251.4 415.8,250.9C414.0,250.3 412.0,249.8 410.3,249.2C408.7,248.6 407.2,247.8 405.9,247.0C404.6,246.2 403.2,245.1 402.6,244.2C401.9,243.3 401.8,242.1 402.0,241.5Z"/>
<path fill="#00eeff" d="M436.9,261.4C434.7,260.8 436.9,259.5 437.4,258.8C438.0,258.1 438.8,257.6 440.2,257.2C441.6,256.7 444.1,256.2 445.7,256.1C447.3,256.0 448.8,256.1 449.6,256.6C450.4,257.1 450.2,258.2 450.4,259.2C450.5,260.1 452.6,262.1 450.4,262.5C448.1,262.8 439.0,262.0 436.9,261.4Z"/>
<path fill="#00ff55" d="M415.8,218.8C416.1,218.1 416.8,217.5 418.1,217.1C419.3,216.8 421.6,216.8 423.6,216.6C425.6,216.4 428.2,216.0 430.2,216.0C432.2,216.0 433.9,216.1 435.8,216.6C437.6,217.0 439.6,218.0 441.3,218.8C442.9,219.5 444.5,220.5 445.7,221.0C446.9,221.5 447.6,222.0 448.5,221.8C449.4,221.6 450.2,220.5 451.2,219.9C452.3,219.3 453.5,218.5 455.0,218.0C456.5,217.5 459.2,213.6 460.1,217.1C460.9,220.7 460.9,235.6 460.1,239.2C459.2,242.9 456.7,239.5 455.0,239.2C453.3,239.0 451.9,238.2 450.1,237.6C448.4,236.9 446.4,236.1 444.6,235.4C442.8,234.6 441.1,233.8 439.1,233.2C437.0,232.5 434.5,232.1 432.4,231.5C430.4,231.0 428.6,230.6 426.9,229.8C425.2,229.1 423.9,228.2 422.5,227.1C421.1,226.0 419.6,224.2 418.6,223.2C417.6,222.2 416.9,221.7 416.4,221.0C415.9,220.3 415.6,219.4 415.8,218.8Z"/>
<path fill="#00ff55" d="M367.7,247.0C367.9,246.3 368.7,245.7 369.4,245.3C370.0,245.0 370.6,244.6 371.6,245.0C372.6,245.4 374.1,246.5 375.5,247.5C376.8,248.6 378.4,250.1 379.9,251.4C381.4,252.7 382.9,254.1 384.3,255.3C385.7,256.5 387.1,257.6 388.2,258.6C389.3,259.6 390.4,260.2 391.0,261.4C391.5,262.6 394.0,265.1 391.5,265.8C389.0,266.5 378.7,266.8 376.0,265.8C373.3,264.8 375.9,261.7 375.5,260.0C375.0,258.4 374.1,257.3 373.3,255.8C372.4,254.4 371.3,252.5 370.5,251.4C369.7,250.3 368.7,249.9 368.3,249.2C367.8,248.5 367.5,247.6 367.7,247.0Z"/>
<path fill="#00ff55" d="M350.6,255.3C351.3,253.5 353.5,255.1 355.0,255.3C356.5,255.5 357.9,255.9 359.4,256.4C360.9,256.9 362.6,257.4 363.8,258.1C365.1,258.7 366.4,258.8 367.2,260.0C367.9,261.3 371.0,264.8 368.3,265.8C365.5,266.8 353.5,267.5 350.6,265.8C347.6,264.0 349.8,257.0 350.6,255.3Z"/>
<path fill="#00eeff" d="M350.6,258.3C351.3,257.0 353.7,258.0 355.0,258.1C356.3,258.1 357.3,258.3 358.3,258.6C359.3,258.9 360.5,258.8 361.1,260.0C361.6,261.2 363.4,264.8 361.6,265.8C359.9,266.8 352.4,267.1 350.6,265.8C348.7,264.5 349.8,259.6 350.6,258.3Z"/>
<path fill="#ffcc00" d="M421.4,201.1C421.4,200.1 421.7,199.3 422.5,198.9C423.2,198.4 424.3,198.2 425.8,198.3C427.3,198.4 429.5,199.0 431.3,199.4C433.2,199.9 435.2,200.4 436.9,201.1C438.5,201.7 440.1,202.5 441.3,203.3C442.5,204.1 443.6,204.9 444.0,206.1C444.5,207.3 444.3,209.3 444.0,210.5C443.8,211.7 443.2,212.9 442.4,213.3C441.6,213.6 440.4,213.1 439.1,212.7C437.8,212.3 436.1,211.6 434.6,211.0C433.2,210.5 431.7,210.0 430.2,209.4C428.7,208.7 427.1,207.9 425.8,207.2C424.5,206.4 423.2,206.0 422.5,205.0C421.7,203.9 421.4,202.1 421.4,201.1Z"/>
<path fill="#ffcc00" d="M447.4,203.8C447.4,203.2 448.0,203.0 448.5,203.0C449.0,202.9 449.8,203.2 450.4,203.6C450.9,204.1 451.6,204.8 451.8,205.5C452.0,206.2 452.1,207.4 451.8,207.7C451.5,208.1 450.7,207.9 450.1,207.7C449.6,207.5 448.9,207.3 448.5,206.6C448.0,206.0 447.4,204.5 447.4,203.8Z"/>
<path fill="#ffcc00" d="M366.1,233.7C366.1,233.2 367.0,232.9 367.7,232.9C368.5,233.0 369.5,233.6 370.5,234.3C371.5,235.0 372.8,236.1 373.8,237.0C374.8,238.0 376.1,239.1 376.6,239.8C377.0,240.5 376.9,241.3 376.6,241.5C376.2,241.6 375.3,241.4 374.4,240.9C373.4,240.4 372.1,239.5 371.0,238.7C369.9,237.9 368.6,236.8 367.7,235.9C366.9,235.1 366.1,234.2 366.1,233.7Z"/>
<path fill="#ffcc00" d="M350.6,243.1C351.3,241.7 353.9,242.8 355.0,243.1C356.1,243.4 356.4,243.9 357.2,244.8C358.0,245.6 359.4,247.1 360.0,248.1C360.6,249.1 361.0,250.3 360.8,250.9C360.5,251.4 359.3,251.3 358.3,251.4C357.4,251.5 356.3,251.4 355.0,251.4C353.7,251.5 351.3,253.0 350.6,251.6C349.8,250.3 349.8,244.5 350.6,243.1Z"/>
</g>
<g clip-path="url(#t6)">
<rect x="455" y="195" width="100" height="65" fill="#00ff55"/>
<path fill="#eeff00" d="M450.6,190.6C458.3,186.1 489.3,189.1 497.0,190.6C504.8,192.1 496.9,197.6 497.0,199.4C497.1,201.3 496.9,201.0 497.6,201.6C498.3,202.3 500.1,202.7 501.5,203.3C502.8,203.9 504.6,204.6 505.9,205.5C507.2,206.4 507.9,208.1 509.2,208.8C510.5,209.6 512.0,209.6 513.6,209.9C515.3,210.3 517.3,210.6 519.2,211.0C521.0,211.5 522.7,212.2 524.7,212.7C526.7,213.2 529.5,213.4 531.3,213.8C533.2,214.2 534.5,214.9 535.8,214.9C537.0,214.9 538.0,213.6 539.1,213.8C540.2,214.0 541.3,215.2 542.4,216.0C543.5,216.8 544.6,217.9 545.7,218.8C546.8,219.7 547.9,221.0 549.0,221.5C550.1,222.1 551.3,222.1 552.3,222.1C553.3,222.1 553.7,221.7 555.0,221.5C556.3,221.4 559.2,218.9 560.1,221.0C560.9,223.1 560.9,232.0 560.1,234.3C559.2,236.6 556.3,234.6 555.0,234.8C553.7,235.0 553.5,234.9 552.3,235.4C551.2,235.8 549.4,236.9 547.9,237.6C546.4,238.3 544.7,239.2 543.5,239.8C542.3,240.4 541.4,240.7 540.7,241.5C540.1,242.2 540.1,243.2 539.6,244.2C539.2,245.2 538.6,246.5 538.0,247.5C537.3,248.6 536.7,249.3 535.8,250.3C534.8,251.3 533.5,252.5 532.4,253.6C531.3,254.7 529.9,255.9 529.1,256.9C528.4,258.0 528.3,258.6 528.0,260.0C527.7,261.5 534.5,264.8 527.5,265.8C520.4,266.8 493.1,266.8 486.0,265.8C478.9,264.8 485.4,261.2 484.9,260.0C484.3,258.9 483.8,259.6 482.7,259.2C481.5,258.7 479.7,258.2 478.2,257.5C476.8,256.8 475.1,255.7 473.8,254.7C472.5,253.7 471.6,252.5 470.5,251.4C469.4,250.3 468.3,249.1 467.2,248.1C466.1,247.1 465.0,246.0 463.8,245.3C462.7,244.7 461.6,244.1 460.5,244.2C459.4,244.3 458.1,244.9 457.2,245.9C456.3,246.9 456.1,249.6 455.0,250.3C453.9,251.0 451.3,252.7 450.6,250.3C449.8,247.9 449.8,238.4 450.6,235.9C451.3,233.4 453.9,235.9 455.0,235.4C456.1,234.8 456.3,233.1 457.2,232.6C458.1,232.1 459.4,232.2 460.5,232.6C461.6,233.0 462.7,233.9 463.8,234.8C465.0,235.7 466.1,237.0 467.2,238.1C468.3,239.2 469.4,240.5 470.5,241.5C471.6,242.4 472.7,243.4 473.8,243.7C474.9,243.9 475.8,243.0 477.1,243.1C478.4,243.2 480.3,243.8 481.5,244.2C482.8,244.7 483.9,245.4 484.9,245.9C485.9,246.3 486.9,247.3 487.6,247.0C488.4,246.7 488.5,244.2 489.3,244.2C490.1,244.2 491.5,246.2 492.6,247.0C493.7,247.8 494.7,248.6 495.9,249.2C497.1,249.8 498.7,250.9 499.8,250.9C500.9,250.9 501.7,249.2 502.6,249.2C503.4,249.2 503.9,250.4 504.8,250.9C505.7,251.3 506.8,251.7 508.1,252.0C509.4,252.2 511.3,252.8 512.5,252.5C513.7,252.2 514.4,251.2 515.3,250.3C516.2,249.4 517.0,247.8 518.1,247.0C519.1,246.2 519.9,245.8 521.4,245.3C522.8,244.9 525.1,244.7 526.9,244.2C528.7,243.8 530.8,242.8 532.4,242.6C534.1,242.3 535.8,243.1 536.9,242.6C538.0,242.0 538.8,240.5 539.1,239.2C539.3,238.0 538.8,236.0 538.5,234.8C538.2,233.6 537.9,232.9 537.4,232.1C537.0,231.2 536.8,230.4 535.8,229.8C534.7,229.3 533.0,229.2 531.3,228.7C529.7,228.3 527.5,227.7 525.8,227.1C524.1,226.4 522.8,225.6 521.4,224.9C519.9,224.1 518.4,223.3 516.9,222.7C515.5,222.0 513.7,221.6 512.5,221.0C511.3,220.4 510.8,219.7 509.8,218.8C508.7,217.9 507.6,216.5 506.4,215.5C505.2,214.5 503.9,213.7 502.6,212.7C501.3,211.7 499.7,210.5 498.7,209.4C497.7,208.3 497.4,206.9 496.5,206.1C495.6,205.2 494.7,204.8 493.2,204.4C491.6,204.0 489.2,203.8 487.1,203.6C485.0,203.4 482.5,203.4 480.4,203.3C478.4,203.2 476.4,202.8 474.9,203.0C473.4,203.1 473.2,204.2 471.6,204.4C470.0,204.6 466.8,204.1 465.5,204.4C464.2,204.7 464.0,205.0 463.8,206.1C463.7,207.1 464.0,209.2 464.4,210.5C464.8,211.8 465.7,212.5 466.1,213.8C466.4,215.1 467.4,217.5 466.6,218.2C465.9,218.9 463.6,218.1 461.6,218.0C459.7,217.9 456.8,217.7 455.0,217.7C453.2,217.6 451.3,222.2 450.6,217.7C449.8,213.2 442.8,195.1 450.6,190.6Z"/>
<path fill="#eeff00" d="M469.9,225.4C470.0,224.6 470.3,223.9 471.0,223.2C471.8,222.5 473.3,221.6 474.4,221.3C475.4,221.1 476.2,221.2 477.1,221.5C478.0,221.9 478.9,223.2 479.9,223.2C480.9,223.2 482.2,221.7 483.2,221.5C484.2,221.4 485.1,221.6 486.0,222.1C486.8,222.6 487.9,223.6 488.2,224.3C488.5,225.1 488.6,226.1 488.0,226.5C487.3,227.0 485.4,226.9 484.3,227.1C483.2,227.3 482.2,227.4 481.5,227.6C480.9,227.9 481.2,228.7 480.4,228.7C479.7,228.7 478.0,228.0 477.1,227.6C476.3,227.3 476.1,226.3 475.5,226.5C474.8,226.7 474.1,228.5 473.3,228.7C472.4,229.0 471.0,228.5 470.5,228.0C469.9,227.4 469.8,226.2 469.9,225.4Z"/>
<path fill="#eeff00" d="M499.8,232.1L502.0,232.1L502.0,233.9L500.4,233.7Z"/>
<path fill="#00eeff" d="M516.9,192.8C511.2,193.6 516.6,196.5 516.9,197.8C517.3,199.1 518.1,199.5 519.2,200.5C520.3,201.5 521.7,203.0 523.6,203.8C525.4,204.7 528.0,205.0 530.2,205.5C532.4,206.0 535.0,206.6 536.9,206.6C538.7,206.6 540.0,206.2 541.3,205.5C542.6,204.8 543.5,203.3 544.6,202.2C545.7,201.1 547.0,199.9 547.9,198.9C548.8,197.9 549.6,197.1 550.1,196.1C550.7,195.1 556.8,193.3 551.2,192.8C545.7,192.2 522.7,192.0 516.9,192.8Z"/>
<path fill="#ffcc00" d="M465.0,193.9C462.1,194.2 464.8,195.1 465.5,195.6C466.2,196.0 467.8,196.6 469.4,196.7C470.9,196.7 472.7,196.1 474.9,195.9C477.1,195.7 481.4,195.9 482.7,195.6C483.9,195.2 485.6,194.2 482.7,193.9C479.7,193.6 467.8,193.6 465.0,193.9Z"/>
<path fill="#ffcc00" d="M547.9,230.4C548.2,229.8 549.2,229.2 550.1,228.7C551.1,228.3 552.6,227.9 553.5,227.6C554.3,227.4 553.9,227.3 555.0,227.1C556.1,226.9 559.2,225.5 560.1,226.5C560.9,227.5 560.9,232.1 560.1,233.2C559.2,234.2 556.5,232.7 555.0,232.6C553.5,232.6 552.3,232.9 551.2,232.8C550.2,232.8 549.0,232.8 548.5,232.4C547.9,232.0 547.6,231.0 547.9,230.4Z"/>
<path fill="#ffcc00" d="M495.4,261.4C494.5,260.6 495.1,258.0 495.4,256.9C495.7,255.9 496.4,255.5 497.0,255.3C497.7,255.1 498.7,255.2 499.2,255.6C499.8,256.1 500.3,257.1 500.6,258.1C500.9,259.0 501.8,260.8 500.9,261.4C500.0,261.9 496.3,262.1 495.4,261.4Z"/>
<path fill="#eeff00" d="M532.4,261.4C533.2,260.1 535.4,259.3 536.9,258.1C538.3,256.9 539.8,255.3 541.3,254.2C542.8,253.1 544.2,252.1 545.7,251.6C547.2,251.1 549.1,250.9 550.1,251.2C551.1,251.5 551.4,252.7 551.8,253.6C552.2,254.6 551.8,256.2 552.3,256.9C552.9,257.7 553.7,257.8 555.0,258.1C556.3,258.3 559.2,257.3 560.1,258.6C560.9,259.9 564.7,264.6 560.1,265.8C555.5,267.0 537.0,266.5 532.4,265.8C527.8,265.1 531.7,262.7 532.4,261.4Z"/>
<path fill="#eeff00" d="M460.5,261.4C460.1,261.0 460.7,259.6 461.1,259.2C461.5,258.8 462.3,258.6 462.7,258.9C463.2,259.3 464.0,261.0 463.6,261.4C463.3,261.8 461.0,261.7 460.5,261.4Z"/>
</g>
<g clip-path="url(#t7)">
<rect x="555" y="195" width="100" height="65" fill="#eeff00"/>
<path fill="#00ff55" d="M550.6,190.6C554.7,185.4 571.3,189.8 575.5,190.6C579.6,191.3 575.6,193.9 575.5,195.0C575.3,196.1 575.0,196.4 574.4,197.2C573.7,198.0 572.4,199.1 571.6,200.0C570.8,200.9 570.1,201.7 569.4,202.7C568.6,203.8 567.7,205.0 567.2,206.1C566.6,207.2 566.2,208.3 566.1,209.4C566.0,210.5 566.1,212.3 566.6,212.7C567.2,213.1 568.4,212.1 569.4,211.6C570.4,211.0 571.6,210.1 572.7,209.4C573.8,208.6 574.9,207.9 576.0,207.2C577.1,206.4 578.2,205.5 579.3,205.0C580.4,204.4 581.6,204.1 582.7,204.1C583.7,204.1 584.9,204.3 585.4,205.0C586.0,205.7 586.2,207.1 586.0,208.3C585.8,209.5 585.1,211.0 584.3,212.1C583.6,213.3 582.6,214.0 581.5,214.9C580.5,215.8 579.5,216.8 578.2,217.7C576.9,218.6 575.3,219.6 573.8,220.4C572.3,221.3 570.7,222.0 569.4,222.7C568.1,223.4 566.9,224.6 566.1,224.6C565.2,224.7 564.9,224.0 564.4,223.2C563.9,222.4 563.4,220.8 563.3,219.9C563.2,219.0 564.1,218.1 563.8,217.7C563.6,217.2 562.6,216.8 561.6,217.1C560.7,217.4 559.4,218.7 558.3,219.3C557.2,220.0 556.3,220.6 555.0,221.0C553.7,221.4 551.3,226.6 550.6,221.5C549.8,216.5 546.4,195.7 550.6,190.6Z"/>
<path fill="#00ff55" d="M587.6,190.6C579.3,191.3 587.5,193.8 588.2,195.0C588.8,196.2 590.0,196.9 591.5,197.8C593.0,198.6 595.2,199.7 597.0,200.0C598.9,200.3 600.9,199.4 602.6,199.4C604.2,199.4 605.9,199.4 607.0,200.0C608.1,200.5 608.3,202.0 609.2,202.7C610.1,203.5 611.2,204.3 612.5,204.4C613.8,204.5 615.1,203.8 616.9,203.3C618.8,202.8 621.4,202.2 623.6,201.6C625.8,201.1 628.4,200.7 630.2,200.0C632.1,199.2 633.4,198.0 634.6,197.2C635.8,196.4 636.9,196.1 637.4,195.0C638.0,193.9 646.3,191.3 638.0,190.6C629.7,189.8 595.9,189.8 587.6,190.6Z"/>
<path fill="#00eeff" d="M610.9,192.8C607.4,193.4 610.8,195.6 611.4,196.7C612.1,197.8 613.3,198.9 614.7,199.4C616.2,200.0 618.4,200.1 620.3,200.0C622.1,199.9 624.1,199.4 625.8,198.9C627.5,198.3 629.1,197.7 630.2,196.7C631.3,195.6 635.7,193.4 632.4,192.8C629.2,192.1 614.4,192.1 610.9,192.8Z"/>
<path fill="#0022ee" d="M616.4,192.8C614.5,193.2 616.7,194.9 617.5,195.6C618.3,196.2 620.0,196.6 621.4,196.7C622.8,196.8 624.6,196.5 625.8,196.1C627.0,195.7 628.0,195.0 628.6,194.4C629.1,193.9 631.1,193.1 629.1,192.8C627.1,192.5 618.3,192.3 616.4,192.8Z"/>
<path fill="#00eeff" d="M600.9,193.9C600.3,194.2 600.9,195.3 601.5,195.7C602.0,196.0 603.6,196.2 604.2,195.9C604.8,195.6 605.6,194.2 605.0,193.9C604.4,193.6 601.5,193.6 600.9,193.9Z"/>
<path fill="#00ff55" d="M639.1,211.6C639.0,210.3 639.3,208.6 639.6,207.2C640.0,205.8 640.6,204.3 641.3,203.3C641.9,202.3 642.6,201.6 643.5,201.1C644.4,200.5 645.5,200.2 646.8,200.0C648.1,199.8 650.5,197.0 651.2,200.0C652.0,202.9 652.0,214.7 651.2,217.7C650.5,220.6 648.3,217.8 646.8,217.7C645.3,217.6 643.5,217.6 642.4,217.1C641.3,216.7 640.7,215.8 640.2,214.9C639.6,214.0 639.2,212.9 639.1,211.6Z"/>
<path fill="#00ff55" d="M591.0,241.5C591.5,239.9 591.9,239.0 592.6,237.6C593.3,236.2 594.4,234.5 595.4,233.2C596.4,231.8 597.5,230.4 598.7,229.3C599.9,228.2 601.0,227.2 602.6,226.5C604.1,225.8 606.1,225.5 608.1,225.1C610.1,224.7 612.5,224.4 614.7,224.0C616.9,223.6 619.2,223.1 621.4,222.7C623.6,222.2 626.0,221.5 628.0,221.3C630.0,221.1 632.2,221.0 633.5,221.3C634.9,221.6 636.0,222.3 636.3,223.2C636.6,224.1 636.1,225.4 635.5,226.5C635.0,227.6 633.8,228.7 633.0,229.8C632.2,231.0 631.7,232.1 630.8,233.2C629.9,234.3 628.8,235.6 627.5,236.5C626.1,237.4 624.2,238.1 622.5,238.7C620.7,239.3 619.0,239.7 616.9,240.1C614.9,240.6 612.3,241.0 610.3,241.5C608.3,241.9 606.4,242.3 604.8,242.8C603.1,243.2 601.7,243.6 600.4,244.2C599.0,244.8 597.6,245.9 596.5,246.4C595.3,247.0 594.4,247.0 593.5,247.5C592.6,248.1 591.6,248.9 590.8,249.5C590.1,250.2 589.3,250.8 588.8,251.5C588.4,252.3 588.6,253.3 588.2,254.2C587.7,255.1 586.9,256.0 586.2,256.8C585.5,257.7 585.0,258.8 584.2,259.5C583.4,260.2 582.5,260.4 581.5,260.8C580.6,261.2 579.2,261.5 578.2,261.8C577.2,262.1 576.2,262.9 575.6,262.8C575.0,262.7 574.8,262.9 574.7,261.4C574.6,259.8 574.7,254.8 574.9,253.5C575.2,252.2 575.7,253.9 576.2,253.5C576.8,253.1 577.3,251.8 578.2,251.2C579.1,250.6 580.4,250.0 581.5,249.9C582.7,249.8 583.9,250.3 584.9,250.5C585.9,250.8 586.7,251.8 587.5,251.2C588.3,250.6 588.9,248.5 589.5,246.9C590.1,245.3 590.4,243.0 591.0,241.5Z"/>
<path fill="#00ff55" d="M588.2,238.1C588.2,237.3 588.6,235.3 589.3,233.7C589.9,232.1 591.4,229.7 592.1,228.7C592.7,227.8 593.1,227.7 593.2,228.2C593.3,228.6 593.0,230.2 592.6,231.5C592.2,232.8 591.5,234.7 591.0,235.9C590.4,237.1 589.8,238.3 589.3,238.7C588.8,239.1 588.2,239.0 588.2,238.1Z"/>
<path fill="#00ff55" d="M581.0,232.6C581.1,231.8 581.9,230.2 582.7,229.3C583.4,228.4 584.9,227.3 585.4,227.1C586.0,226.9 586.2,227.4 586.0,228.2C585.8,228.9 585.0,230.5 584.3,231.5C583.7,232.5 582.7,233.8 582.1,233.9C581.5,234.1 580.9,233.4 581.0,232.6Z"/>
<path fill="#00eeff" d="M601.5,235.4C601.4,234.7 601.8,233.4 602.6,232.6C603.3,231.8 604.4,231.0 605.9,230.4C607.4,229.8 609.6,229.5 611.4,229.1C613.3,228.7 615.3,228.3 616.9,228.0C618.6,227.7 620.1,227.2 621.4,227.3C622.7,227.4 624.1,227.9 624.7,228.7C625.3,229.5 625.3,231.0 624.9,232.1C624.5,233.1 623.6,234.1 622.5,234.8C621.3,235.6 619.7,236.0 618.1,236.5C616.4,236.9 614.4,237.5 612.5,237.6C610.7,237.7 608.6,237.4 607.0,237.3C605.4,237.1 604.0,237.1 603.1,236.8C602.2,236.5 601.6,236.1 601.5,235.4Z"/>
<path fill="#00ff55" d="M550.6,238.7C551.3,236.0 553.6,239.8 555.0,240.2C556.4,240.7 557.7,241.5 559.0,241.6C560.3,241.6 561.4,241.0 563.0,240.6C564.5,240.1 566.7,239.5 568.3,238.9C569.8,238.4 571.2,237.8 572.3,237.3C573.4,236.8 574.2,236.0 574.9,235.9C575.6,235.9 576.2,236.2 576.2,236.9C576.3,237.6 575.6,239.0 575.2,240.2C574.9,241.5 574.3,243.0 573.9,244.2C573.5,245.4 573.4,246.5 572.9,247.5C572.4,248.5 571.9,249.4 570.9,250.2C569.9,251.0 568.3,251.6 566.9,252.2C565.6,252.7 564.3,253.1 563.0,253.5C561.6,254.0 560.3,254.5 559.0,254.8C557.7,255.2 556.4,255.6 555.0,255.8C553.6,256.1 551.3,259.3 550.6,256.4C549.8,253.5 549.8,241.4 550.6,238.7Z"/>
<path fill="#00eeff" d="M559.2,247.5C559.4,247.0 559.8,246.1 560.5,245.7C561.3,245.2 562.8,244.8 563.8,244.8C564.9,244.7 566.2,244.9 566.6,245.3C567.1,245.8 567.0,246.9 566.6,247.5C566.2,248.2 565.3,249.0 564.4,249.4C563.5,249.8 561.9,250.0 561.1,250.0C560.3,249.9 559.7,249.6 559.4,249.2C559.1,248.8 559.0,248.1 559.2,247.5Z"/>
<path fill="#00ff55" d="M621.4,261.4C621.9,259.9 623.6,258.4 624.7,256.9C625.8,255.5 626.9,254.0 628.0,252.5C629.1,251.0 630.0,249.4 631.3,248.1C632.6,246.8 634.1,245.8 635.8,244.8C637.4,243.8 639.4,242.8 641.3,242.0C643.1,241.2 645.2,240.3 646.8,239.8C648.5,239.3 650.5,234.9 651.2,239.2C652.0,243.6 656.2,261.4 651.2,265.8C646.3,270.2 626.3,266.5 621.4,265.8C616.4,265.1 620.8,262.8 621.4,261.4Z"/>
<path fill="#00eeff" d="M634.1,252.5C634.1,251.8 634.1,250.7 634.6,249.8C635.2,248.8 636.3,247.9 637.4,247.0C638.5,246.1 640.0,245.0 641.3,244.2C642.6,243.5 643.5,242.8 645.2,242.3C646.8,241.9 650.2,239.3 651.2,241.5C652.3,243.6 652.0,253.0 651.2,255.3C650.5,257.6 648.5,255.3 646.8,255.3C645.2,255.3 642.9,255.4 641.3,255.3C639.6,255.2 638.0,254.9 636.9,254.7C635.7,254.6 634.9,254.6 634.4,254.2C634.0,253.8 634.1,253.3 634.1,252.5Z"/>
<path fill="#00eeff" d="M623.0,261.4C622.3,261.0 623.5,259.5 624.1,258.9C624.8,258.4 626.1,258.1 626.9,258.3C627.7,258.4 628.6,259.2 628.9,259.7C629.2,260.2 629.5,261.1 628.6,261.4C627.6,261.6 623.8,261.8 623.0,261.4Z"/>
<path fill="#00eeff" d="M641.8,261.4C640.5,261.0 642.1,259.6 642.9,259.2C643.8,258.7 645.4,258.7 646.8,258.6C648.2,258.5 650.5,258.1 651.2,258.6C652.0,259.1 652.8,260.9 651.2,261.4C649.7,261.8 643.2,261.7 641.8,261.4Z"/>
<path fill="#ffcc00" d="M595.4,207.7C595.7,206.9 597.5,207.0 598.7,206.6C599.9,206.2 601.6,205.4 602.6,205.5C603.5,205.6 603.7,206.6 604.2,207.2C604.8,207.7 604.9,208.6 605.9,208.8C606.9,209.0 608.8,208.6 610.3,208.3C611.8,207.9 613.1,207.2 614.7,206.6C616.4,206.1 618.4,205.4 620.3,205.0C622.1,204.5 624.0,204.2 625.8,204.1C627.6,204.0 630.0,204.1 631.3,204.4C632.7,204.7 633.3,205.2 633.8,206.1C634.2,206.9 634.3,208.2 634.1,209.4C633.9,210.6 633.3,212.1 632.4,213.3C631.6,214.5 630.4,215.6 629.1,216.6C627.8,217.5 626.3,218.1 624.7,218.8C623.0,219.4 621.2,220.0 619.2,220.4C617.1,220.9 614.6,221.3 612.5,221.5C610.5,221.8 608.4,222.2 607.0,222.1C605.6,222.0 604.9,221.6 604.2,221.0C603.6,220.4 603.6,219.1 603.1,218.2C602.7,217.4 602.3,216.7 601.5,216.0C600.6,215.4 599.0,215.1 598.1,214.4C597.3,213.6 596.9,212.7 596.5,211.6C596.0,210.5 595.0,208.6 595.4,207.7Z"/>
<path fill="#ff9900" d="M607.0,217.1C606.7,216.5 607.4,215.6 608.1,214.9C608.8,214.3 609.9,213.9 611.4,213.3C612.9,212.6 615.1,211.7 616.9,211.0C618.8,210.4 620.8,209.7 622.5,209.2C624.1,208.7 625.7,208.2 626.9,208.1C628.1,207.9 629.1,208.0 629.7,208.5C630.2,209.0 630.5,210.2 630.2,211.0C629.9,211.9 628.9,213.0 628.0,213.8C627.1,214.6 626.0,215.4 624.7,216.0C623.4,216.7 621.9,217.3 620.3,217.7C618.6,218.0 616.5,218.0 614.7,218.2C613.0,218.4 611.0,219.0 609.8,218.8C608.5,218.6 607.3,217.8 607.0,217.1Z"/>
<path fill="#ffcc00" d="M561.9,234.8C561.6,234.2 562.0,233.3 562.7,232.6C563.4,231.9 564.9,231.0 566.1,230.4C567.3,229.8 569.0,229.3 569.9,229.3C570.9,229.3 571.7,229.8 571.8,230.4C571.9,231.0 571.2,232.3 570.5,233.2C569.8,234.0 568.7,234.8 567.7,235.4C566.7,235.9 565.4,236.6 564.4,236.5C563.4,236.4 562.1,235.5 561.9,234.8Z"/>
<path fill="#ffcc00" d="M591.5,256.9C591.9,254.9 592.6,254.6 593.7,253.6C594.8,252.6 596.5,251.8 598.1,250.9C599.8,249.9 601.8,249.0 603.7,248.1C605.5,247.2 607.4,246.2 609.2,245.3C611.0,244.5 612.7,243.7 614.7,243.1C616.8,242.6 619.4,242.1 621.4,242.0C623.3,241.9 625.2,242.0 626.3,242.3C627.5,242.7 627.9,243.4 628.0,244.2C628.1,245.1 627.6,246.5 626.9,247.5C626.2,248.6 624.9,249.5 623.6,250.3C622.3,251.1 620.6,251.7 619.2,252.5C617.7,253.4 616.0,254.4 614.7,255.3C613.4,256.2 612.3,257.0 611.4,258.1C610.5,259.1 612.5,260.1 609.2,261.4C605.9,262.7 594.5,266.5 591.5,265.8C588.6,265.1 591.1,259.0 591.5,256.9Z"/>
<path fill="#ff6600" d="M618.1,246.8L620.8,246.4L621.0,247.9L618.6,248.1Z"/>
<path fill="#ffcc00" d="M633.0,237.6C632.9,236.8 633.4,235.4 634.1,234.3C634.7,233.2 635.8,232.1 636.9,231.0C637.9,229.8 639.1,228.6 640.2,227.6C641.3,226.6 642.4,225.5 643.5,224.9C644.6,224.2 645.5,224.0 646.8,223.8C648.1,223.5 650.5,220.8 651.2,223.2C652.0,225.6 652.0,235.6 651.2,238.1C650.5,240.7 648.3,238.5 646.8,238.7C645.3,238.9 643.9,239.1 642.4,239.2C640.9,239.4 639.3,239.5 638.0,239.5C636.7,239.5 635.5,239.6 634.6,239.2C633.8,238.9 633.1,238.4 633.0,237.6Z"/>
<path fill="#ff9900" d="M642.4,232.1C642.3,231.1 642.8,229.6 643.5,228.7C644.2,227.9 645.5,227.4 646.8,227.1C648.1,226.7 650.5,225.2 651.2,226.5C652.0,227.8 652.0,233.4 651.2,234.8C650.5,236.2 648.0,235.1 646.8,235.0C645.6,235.0 644.8,235.1 644.0,234.6C643.3,234.1 642.5,233.0 642.4,232.1Z"/>
<path fill="#ffcc00" d="M553.9,262.5C554.1,261.7 554.2,261.9 555.0,261.4C555.8,260.9 557.7,260.0 559.0,259.5C560.3,259.0 562.0,258.3 563.0,258.2C564.0,258.1 564.7,258.3 565.0,258.8C565.2,259.4 564.7,260.2 564.5,261.4C564.3,262.5 565.6,265.1 563.8,265.8C562.1,266.5 555.6,266.3 553.9,265.8C552.2,265.2 553.7,263.2 553.9,262.5Z"/>
<path fill="#ffcc00" d="M553.9,227.6C554.2,227.1 555.2,226.7 555.6,227.1C555.9,227.4 556.2,229.3 555.9,229.8C555.6,230.4 554.2,230.5 553.9,230.2C553.6,229.8 553.6,228.1 553.9,227.6Z"/>
</g>
<g clip-path="url(#t8)">
<rect x="255" y="260" width="100" height="65" fill="#00ff55"/>
<path fill="#eeff00" d="M284.9,255.6C277.1,256.3 285.8,258.8 284.9,260.0C283.9,261.2 281.4,261.9 279.3,262.8C277.3,263.6 274.9,264.2 272.7,265.0C270.5,265.7 267.9,266.5 266.1,267.2C264.2,267.8 263.1,268.3 261.6,268.8C260.2,269.4 259.1,270.1 257.2,270.5C255.4,270.9 251.7,266.7 250.6,271.1C249.5,275.4 249.5,292.3 250.6,296.5C251.7,300.7 255.6,296.2 257.2,296.5C258.9,296.8 259.2,297.8 260.5,298.2C261.8,298.5 263.5,298.9 265.0,298.7C266.4,298.5 267.9,297.6 269.4,297.1C270.9,296.5 272.3,296.0 273.8,295.4C275.3,294.8 277.0,294.4 278.2,293.7C279.4,293.1 280.3,292.5 281.0,291.5C281.7,290.5 282.1,288.9 282.7,287.7C283.2,286.5 283.7,285.4 284.3,284.3C285.0,283.3 285.5,282.5 286.5,281.6C287.5,280.6 289.2,279.8 290.4,278.8C291.6,277.8 292.7,276.7 293.7,275.5C294.7,274.3 295.7,272.8 296.5,271.6C297.3,270.4 297.9,269.1 298.7,268.3C299.5,267.5 300.1,267.1 301.5,266.6C302.8,266.2 304.8,265.7 307.0,265.5C309.2,265.3 312.3,265.6 314.7,265.5C317.1,265.4 319.5,265.3 321.4,265.0C323.2,264.6 324.5,263.9 325.8,263.3C327.1,262.8 328.2,262.2 329.1,261.7C330.0,261.1 331.0,261.0 331.3,260.0C331.7,259.0 339.1,256.3 331.3,255.6C323.6,254.8 292.6,254.8 284.9,255.6Z"/>
<path fill="#ffcc00" d="M250.6,277.7C251.7,276.4 255.7,278.0 257.2,277.7C258.7,277.4 258.5,276.7 259.4,276.0C260.3,275.4 261.5,274.5 262.7,273.8C264.0,273.2 265.7,272.7 267.2,272.2C268.6,271.6 270.1,271.1 271.6,270.5C273.1,270.0 274.6,269.2 276.0,268.8C277.4,268.5 278.8,268.1 279.9,268.3C281.0,268.4 282.2,269.1 282.7,269.7C283.1,270.4 283.0,271.5 282.4,272.2C281.9,272.9 280.6,273.4 279.3,273.8C278.1,274.3 276.2,274.4 274.9,274.9C273.6,275.5 272.7,276.4 271.6,277.1C270.5,277.9 269.4,278.6 268.3,279.4C267.2,280.1 266.1,280.9 265.0,281.6C263.8,282.2 262.9,282.7 261.6,283.2C260.3,283.8 259.1,284.6 257.2,284.9C255.4,285.2 251.7,286.4 250.6,285.2C249.5,284.0 249.5,279.0 250.6,277.7Z"/>
<path fill="#ffcc00" d="M305.9,258.9C303.9,259.2 305.9,260.2 307.0,260.6C308.1,260.9 310.6,260.9 312.5,260.9C314.5,260.9 317.5,260.9 318.6,260.6C319.7,260.2 321.3,259.2 319.2,258.9C317.0,258.6 307.9,258.6 305.9,258.9Z"/>
<path fill="#00eeff" d="M265.0,258.9C263.5,259.2 264.8,260.2 265.5,260.6C266.2,260.9 268.0,260.9 269.4,260.9C270.8,260.9 273.0,260.8 273.8,260.4C274.6,260.1 275.5,259.2 274.0,258.9C272.6,258.6 266.4,258.6 265.0,258.9Z"/>
<path fill="#00eeff" d="M345.7,257.8C343.4,259.1 345.9,263.5 346.3,265.5C346.6,267.6 347.1,268.9 347.9,270.0C348.8,271.0 350.1,271.3 351.2,271.6C352.4,271.9 353.5,271.6 355.0,271.6C356.5,271.6 359.2,273.9 360.1,271.6C360.9,269.3 362.5,260.1 360.1,257.8C357.7,255.5 348.0,256.5 345.7,257.8Z"/>
<path fill="#00eeff" d="M304.8,279.9C304.8,278.6 305.1,277.1 305.9,276.0C306.6,274.9 307.7,273.9 309.2,273.3C310.7,272.6 312.7,272.3 314.7,272.2C316.8,272.1 319.2,272.7 321.4,272.7C323.6,272.8 326.2,272.6 328.0,272.4C329.9,272.1 331.1,271.5 332.4,271.3C333.8,271.0 335.6,270.7 336.3,270.8C337.0,271.0 336.8,271.3 336.6,272.2C336.5,273.0 335.8,274.7 335.2,276.0C334.6,277.4 334.0,279.1 333.0,280.5C332.0,281.8 330.5,283.2 329.1,284.3C327.7,285.4 326.3,286.6 324.7,287.1C323.0,287.6 321.0,287.4 319.2,287.4C317.3,287.4 315.4,287.2 313.6,287.1C311.9,287.0 309.9,287.1 308.7,286.5C307.4,286.0 306.5,284.9 305.9,283.8C305.2,282.7 304.8,281.2 304.8,279.9Z"/>
<path fill="#00eeff" d="M267.7,319.2L271.6,319.0L271.8,320.1L268.1,320.3Z"/>
<path fill="#eeff00" d="M360.1,282.1C359.2,274.0 356.5,282.1 355.0,282.1C353.5,282.1 352.4,281.7 351.2,282.1C350.1,282.6 348.9,283.8 347.9,284.9C346.9,286.0 346.1,287.6 345.2,288.8C344.2,290.0 343.4,291.2 342.4,292.1C341.4,292.9 340.4,293.2 339.1,293.7C337.8,294.3 336.1,294.8 334.6,295.4C333.2,296.0 331.7,296.5 330.2,297.1C328.7,297.6 327.3,298.2 325.8,298.7C324.3,299.3 322.4,299.7 321.4,300.4C320.4,301.0 320.0,301.6 319.7,302.6C319.4,303.6 319.6,305.2 319.4,306.5C319.2,307.8 319.0,309.4 318.6,310.3C318.2,311.3 317.5,312.1 316.9,312.0C316.4,311.9 316.0,310.4 315.3,309.8C314.6,309.2 313.5,308.5 312.5,308.3C311.5,308.2 310.3,308.2 309.2,308.7C308.1,309.1 306.8,310.1 305.9,310.9C304.9,311.6 303.6,312.5 303.5,313.1C303.3,313.7 303.8,314.2 304.8,314.8C305.7,315.3 307.7,316.0 309.2,316.4C310.7,316.8 312.4,316.4 313.6,317.0C314.8,317.5 315.8,318.7 316.4,319.7C316.9,320.7 317.6,322.4 316.9,323.1C316.3,323.7 314.0,323.4 312.5,323.6C311.0,323.8 309.4,323.9 308.1,324.2C306.8,324.4 305.3,323.9 304.8,325.0C304.2,326.2 295.6,329.8 304.8,330.8C314.0,331.8 350.9,338.9 360.1,330.8C369.3,322.7 360.9,290.2 360.1,282.1Z"/>
<path fill="#00ff55" d="M340.7,312.5C340.7,311.8 341.4,311.1 342.4,310.7C343.4,310.2 345.2,310.1 346.8,310.0C348.5,309.9 351.0,310.2 352.3,310.3C353.7,310.4 353.7,310.6 355.0,310.7C356.3,310.8 359.2,309.2 360.1,310.9C360.9,312.6 360.9,319.2 360.1,320.8C359.2,322.5 356.7,320.9 355.0,320.6C353.3,320.3 351.7,319.7 350.1,319.2C348.6,318.7 347.0,318.2 345.7,317.5C344.4,316.9 343.2,316.1 342.4,315.3C341.6,314.5 340.7,313.3 340.7,312.5Z"/>
<path fill="#00ff55" d="M319.7,315.3C319.9,314.6 320.5,313.0 321.4,312.0C322.2,311.0 323.6,309.9 324.7,309.2C325.8,308.6 327.0,308.1 328.0,308.1C329.0,308.1 330.2,308.6 330.8,309.2C331.3,309.9 331.4,311.3 331.3,312.0C331.2,312.6 330.9,313.2 330.2,313.1C329.6,313.0 328.4,311.5 327.5,311.4C326.5,311.3 325.6,312.0 324.7,312.5C323.8,313.1 322.7,314.1 321.9,314.8C321.2,315.4 320.6,316.3 320.3,316.4C319.9,316.5 319.5,316.0 319.7,315.3Z"/>
</g>
<g clip-path="url(#t9)">
<rect x="355" y="260" width="100" height="65" fill="#00ff55"/>
<path fill="#eeff00" d="M350.6,282.1C351.3,277.4 353.2,282.4 355.0,282.7C356.8,283.0 359.2,283.5 361.6,283.8C364.0,284.1 367.2,284.0 369.4,284.3C371.6,284.7 373.3,285.2 374.9,286.0C376.6,286.8 377.9,288.2 379.3,289.3C380.8,290.4 382.3,291.8 383.8,292.6C385.2,293.5 386.8,293.9 388.2,294.3C389.6,294.7 390.9,294.2 392.1,294.8C393.3,295.5 394.3,297.4 395.4,298.2C396.5,298.9 397.7,298.9 398.7,299.3C399.7,299.6 400.1,300.0 401.5,300.4C402.8,300.7 405.0,301.3 407.0,301.5C409.0,301.7 412.0,301.3 413.6,301.5C415.3,301.7 415.8,301.9 416.9,302.6C418.1,303.2 419.4,304.3 420.3,305.4C421.1,306.4 421.7,307.5 421.9,308.7C422.1,309.9 422.0,311.5 421.4,312.5C420.7,313.6 419.5,314.3 418.1,314.8C416.6,315.2 414.4,315.1 412.5,315.3C410.7,315.5 408.4,315.6 407.0,315.9C405.6,316.1 404.8,316.1 404.2,317.0C403.7,317.8 403.8,318.5 403.7,320.8C403.6,323.1 409.4,329.1 403.7,330.8C398.0,332.5 375.5,331.8 369.4,330.8C363.3,329.8 368.1,326.9 367.2,325.0C366.2,323.2 365.0,321.4 363.8,319.7C362.7,318.1 361.6,316.5 360.5,315.3C359.4,314.1 358.1,313.2 357.2,312.5C356.3,311.9 356.1,311.7 355.0,311.4C353.9,311.2 351.3,315.8 350.6,310.9C349.8,306.0 349.8,286.8 350.6,282.1Z"/>
<path fill="#00ff55" d="M393.9,294.5C394.5,294.3 395.7,295.8 396.5,296.5C397.2,297.2 398.5,298.2 398.4,298.9C398.3,299.7 396.8,300.3 395.9,301.2C395.1,302.0 394.0,303.2 393.2,304.2C392.3,305.3 391.6,306.6 391.0,307.6C390.3,308.5 389.9,309.8 389.5,310.0C389.1,310.2 388.7,309.4 388.7,308.7C388.8,307.9 389.4,306.6 389.8,305.4C390.3,304.2 391.0,302.8 391.5,301.5C392.0,300.2 392.4,298.8 392.8,297.6C393.2,296.4 393.3,294.7 393.9,294.5Z"/>
<path fill="#00ff55" d="M397.0,310.3C396.9,309.7 397.3,307.8 397.6,307.0C397.9,306.3 398.4,305.6 398.7,305.9C399.0,306.2 399.2,307.8 399.2,308.7C399.2,309.5 399.1,310.6 398.7,310.9C398.3,311.2 397.2,311.0 397.0,310.3Z"/>
<path fill="#00ff55" d="M392.6,321.9L393.2,320.1L394.3,320.3L393.9,322.2Z"/>
<path fill="#ffcc00" d="M361.1,299.8C361.1,299.0 361.4,298.1 362.2,297.6C363.0,297.1 364.6,297.1 366.1,297.1C367.5,297.0 369.7,297.0 371.0,297.4C372.3,297.8 373.4,298.5 373.8,299.3C374.2,300.0 374.1,301.3 373.6,302.0C373.0,302.8 371.7,303.4 370.5,303.7C369.2,304.0 367.4,303.9 366.1,303.7C364.7,303.5 363.0,303.2 362.2,302.6C361.4,301.9 361.1,300.7 361.1,299.8Z"/>
<path fill="#ffcc00" d="M379.1,298.7C379.0,298.2 380.0,298.1 381.0,298.2C382.0,298.3 383.7,298.9 384.9,299.3C386.1,299.6 387.5,299.8 388.2,300.4C388.8,300.9 388.9,301.9 388.7,302.6C388.6,303.3 387.8,304.3 387.1,304.5C386.3,304.7 385.2,304.2 384.3,303.7C383.4,303.2 382.4,302.3 381.5,301.5C380.7,300.7 379.2,299.3 379.1,298.7Z"/>
<path fill="#ffcc00" d="M392.6,311.8L393.2,309.2L393.9,309.2L393.5,312.0Z"/>
<path fill="#ffcc00" d="M390.4,315.3L391.5,313.3L391.8,314.2L391.0,315.9Z"/>
<path fill="#eeff00" d="M369.4,258.9C368.6,259.2 369.2,260.1 369.9,260.6C370.7,261.0 372.6,261.1 373.8,261.7C375.0,262.2 376.4,263.3 377.1,263.9C377.8,264.4 377.9,265.2 378.0,265.0C378.1,264.8 378.0,263.5 377.7,262.8C377.3,262.0 376.5,261.2 376.0,260.6C375.6,259.9 376.0,259.2 374.9,258.9C373.8,258.6 370.2,258.6 369.4,258.9Z"/>
<path fill="#00eeff" d="M350.6,255.6C352.4,252.7 359.6,254.8 361.6,255.6C363.7,256.3 362.0,258.7 362.7,260.0C363.5,261.3 364.8,262.2 366.1,263.3C367.4,264.4 369.0,265.4 370.5,266.6C372.0,267.8 373.4,269.2 374.9,270.5C376.4,271.8 378.0,273.1 379.3,274.4C380.6,275.7 381.8,277.0 382.7,278.3C383.5,279.5 384.1,281.0 384.3,282.1C384.5,283.2 384.4,284.6 384.0,284.9C383.5,285.2 382.5,284.3 381.5,283.8C380.6,283.2 379.5,282.4 378.2,281.6C376.9,280.7 375.3,279.6 373.8,278.8C372.3,278.0 370.9,277.2 369.4,276.6C367.9,275.9 366.4,275.4 365.0,274.9C363.5,274.5 362.2,274.1 360.5,273.8C358.9,273.5 356.7,273.2 355.0,273.1C353.3,272.9 351.3,275.6 350.6,272.7C349.8,269.8 348.7,258.4 350.6,255.6Z"/>
<path fill="#0022ee" d="M356.7,265.0C356.5,264.4 356.9,263.6 357.4,263.3C358.0,263.0 359.1,262.9 360.0,263.1C360.9,263.3 361.9,264.1 362.7,264.6C363.6,265.2 364.4,265.9 365.0,266.6C365.5,267.3 366.0,268.3 366.1,268.8C366.2,269.4 366.0,270.1 365.5,270.2C365.0,270.3 364.1,269.7 363.3,269.4C362.5,269.1 361.4,268.7 360.5,268.3C359.7,267.9 358.7,267.4 358.1,266.9C357.5,266.3 356.8,265.6 356.7,265.0Z"/>
<path fill="#eeff00" d="M392.1,255.6C386.9,256.3 392.0,258.7 392.6,260.0C393.3,261.3 394.6,262.1 395.9,263.3C397.2,264.5 398.9,265.9 400.4,267.2C401.8,268.5 403.3,269.8 404.8,271.1C406.3,272.4 407.9,273.8 409.2,274.9C410.5,276.0 411.5,276.6 412.5,277.7C413.5,278.8 414.3,280.2 415.3,281.6C416.3,283.0 417.7,284.5 418.6,286.0C419.5,287.5 420.2,288.9 420.8,290.4C421.5,292.0 421.8,293.8 422.5,295.4C423.1,297.0 424.0,298.3 424.7,299.8C425.4,301.3 426.3,303.0 426.9,304.2C427.5,305.4 427.1,306.4 428.0,307.0C428.9,307.7 430.6,307.8 432.4,308.1C434.3,308.5 436.9,308.7 439.1,309.2C441.3,309.8 443.7,310.7 445.7,311.4C447.7,312.2 449.7,313.1 451.2,313.7C452.8,314.2 453.5,314.5 455.0,314.8C456.5,315.0 459.2,321.5 460.1,315.3C460.9,309.1 460.9,284.0 460.1,277.7C459.2,271.4 456.2,278.1 455.0,277.7C453.8,277.3 453.6,276.4 452.9,275.5C452.2,274.6 451.5,273.1 450.7,272.2C449.9,271.2 449.3,270.4 447.9,270.0C446.5,269.5 444.1,269.6 442.4,269.4C440.6,269.2 438.9,269.4 437.4,268.8C435.9,268.3 434.9,267.0 433.5,266.1C432.2,265.2 430.4,264.1 429.1,263.3C427.8,262.5 426.6,261.7 425.8,261.1C425.0,260.6 424.5,260.9 424.1,260.0C423.8,259.1 428.9,256.3 423.6,255.6C418.2,254.8 397.2,254.8 392.1,255.6Z"/>
<path fill="#ffcc00" d="M433.0,278.3C433.1,277.6 433.4,277.0 434.1,276.6C434.7,276.2 435.9,276.0 436.9,276.0C437.8,276.1 438.9,276.4 439.6,276.8C440.3,277.3 440.9,278.1 441.1,278.8C441.2,279.5 440.9,280.6 440.4,281.2C439.9,281.9 438.8,282.6 438.0,282.7C437.1,282.8 435.9,282.3 435.2,281.9C434.5,281.5 433.9,281.1 433.5,280.5C433.2,279.9 432.9,278.9 433.0,278.3Z"/>
<path fill="#ffcc00" d="M424.1,269.4C424.2,269.0 425.3,268.9 425.8,269.1C426.3,269.3 427.0,270.0 427.1,270.5C427.3,271.0 427.0,271.8 426.7,271.9C426.4,272.1 425.7,271.7 425.2,271.3C424.8,270.9 424.0,269.8 424.1,269.4Z"/>
<path fill="#00eeff" d="M437.1,258.9C434.9,259.3 436.9,260.6 437.4,261.5C437.9,262.5 439.2,264.0 440.2,264.3C441.2,264.6 442.0,263.5 443.5,263.2C445.0,262.9 447.9,263.1 449.0,262.7C450.1,262.2 449.9,261.1 450.1,260.4C450.4,259.8 452.5,259.2 450.4,258.9C448.2,258.6 439.2,258.5 437.1,258.9Z"/>
<path fill="#00eeff" d="M431.9,326.4C429.9,325.6 432.0,323.0 432.4,321.9C432.9,320.9 433.4,320.6 434.6,320.3C435.9,320.0 438.8,320.0 440.2,320.3C441.6,320.6 442.3,320.9 442.9,321.9C443.6,323.0 445.9,325.6 444.0,326.4C442.2,327.1 433.8,327.1 431.9,326.4Z"/>
<path fill="#eeff00" d="M396.8,291.0L398.1,291.0L398.1,292.3L396.8,292.3Z"/>
</g>
<g clip-path="url(#t10)">
<rect x="455" y="260" width="100" height="65" fill="#eeff00"/>
<path fill="#00ff55" d="M450.6,255.6C456.3,251.8 479.2,254.8 484.9,255.6C490.6,256.3 484.4,258.6 484.9,260.0C485.3,261.4 486.6,262.5 487.6,263.9C488.6,265.3 489.9,266.8 491.0,268.3C492.0,269.8 493.0,271.6 493.7,272.7C494.4,273.8 494.8,275.3 495.0,274.9C495.3,274.6 495.2,271.9 495.4,270.5C495.5,269.1 495.6,267.2 495.9,266.6C496.3,266.0 496.9,266.4 497.6,266.9C498.3,267.3 499.3,268.7 500.4,269.4C501.4,270.1 502.4,270.8 503.7,271.1C505.0,271.3 506.8,271.2 508.1,271.1C509.4,270.9 510.6,270.0 511.4,270.0C512.2,270.0 512.9,270.2 513.1,271.1C513.3,271.9 513.0,273.6 512.5,274.9C512.1,276.2 510.8,277.4 510.3,278.8C509.8,280.2 510.3,282.1 509.8,283.2C509.2,284.3 508.2,285.0 507.0,285.4C505.8,285.9 503.9,285.7 502.6,286.0C501.3,286.3 500.3,286.5 499.2,287.1C498.2,287.7 497.3,289.5 496.5,289.9C495.7,290.2 494.9,289.9 494.3,289.3C493.6,288.8 493.3,287.7 492.6,286.5C492.0,285.4 491.1,284.0 490.4,282.7C489.7,281.4 488.8,280.0 488.2,278.8C487.5,277.6 487.2,276.5 486.5,275.5C485.9,274.5 485.3,273.5 484.3,272.7C483.3,272.0 482.0,271.5 480.4,271.1C478.9,270.6 476.6,270.2 474.9,270.0C473.3,269.7 471.5,269.9 470.5,269.4C469.5,268.9 469.3,266.9 468.8,267.2C468.4,267.5 468.3,270.3 467.7,271.1C467.2,271.8 466.0,270.1 465.5,271.6C465.0,273.1 465.5,277.9 465.0,279.9C464.4,281.9 463.1,283.5 462.2,283.8C461.3,284.1 460.6,282.3 459.4,281.6C458.2,280.8 456.5,279.9 455.0,279.4C453.5,278.8 451.3,282.2 450.6,278.3C449.8,274.3 444.9,259.4 450.6,255.6Z"/>
<path fill="#00ff55" d="M465.5,271.1C466.0,270.1 467.4,269.6 467.7,271.1C468.0,272.5 467.1,277.3 467.2,279.9C467.2,282.5 467.6,284.3 468.1,286.5C468.5,288.8 469.3,291.2 469.9,293.2C470.5,295.2 471.1,297.1 471.6,298.7C472.1,300.4 472.7,301.8 473.0,303.1C473.3,304.5 473.5,306.0 473.5,307.0C473.4,308.0 473.1,309.7 472.7,309.2C472.3,308.8 471.7,306.0 471.0,304.2C470.4,302.5 469.6,300.6 468.8,298.7C468.1,296.9 467.4,295.0 466.6,293.2C465.9,291.3 464.9,289.5 464.4,287.7C463.9,285.8 463.8,284.0 463.8,282.1C463.9,280.3 464.5,278.4 464.7,276.6C465.0,274.7 465.0,272.0 465.5,271.1Z"/>
<path fill="#eeff00" d="M461.1,258.9C460.8,259.5 461.1,262.0 461.4,262.8C461.7,263.5 462.7,264.0 463.0,263.3C463.3,262.7 463.6,259.6 463.3,258.9C463.0,258.2 461.4,258.2 461.1,258.9Z"/>
<path fill="#00ff55" d="M481.9,293.2C482.0,292.3 482.2,291.3 482.7,290.8C483.1,290.2 484.0,289.8 484.6,289.9C485.3,289.9 486.1,290.5 486.5,291.2C486.9,291.8 487.2,292.9 487.1,293.7C487.0,294.6 486.5,295.7 486.0,296.3C485.4,296.8 484.4,297.1 483.8,297.1C483.1,297.0 482.4,296.6 482.1,296.0C481.8,295.3 481.8,294.1 481.9,293.2Z"/>
<path fill="#00ff55" d="M472.7,308.7C473.1,307.8 474.0,307.2 474.9,306.5C475.8,305.7 477.2,304.5 478.2,304.2C479.2,304.0 480.2,304.2 481.0,304.8C481.8,305.4 483.1,306.6 483.2,307.6C483.3,308.5 482.3,309.5 481.5,310.3C480.8,311.2 479.7,311.8 478.8,312.5C477.9,313.3 476.9,314.5 476.0,314.8C475.2,315.0 474.1,314.8 473.6,314.2C473.0,313.7 472.8,312.4 472.7,311.4C472.6,310.5 472.3,309.5 472.7,308.7Z"/>
<path fill="#00ff55" d="M484.0,308.7C484.2,307.8 484.7,306.7 485.4,305.9C486.1,305.1 487.2,304.3 488.2,304.0C489.2,303.8 490.9,303.7 491.5,304.2C492.1,304.8 491.7,306.9 492.1,307.6C492.4,308.2 493.4,307.5 493.7,308.1C494.0,308.8 494.0,310.4 493.7,311.4C493.4,312.5 493.0,313.7 492.1,314.2C491.1,314.8 489.3,314.9 488.2,314.8C487.1,314.6 486.1,313.7 485.4,313.1C484.7,312.5 484.2,311.6 484.0,310.9C483.7,310.1 483.7,309.5 484.0,308.7Z"/>
<path fill="#00ff55" d="M500.9,302.6C501.2,302.2 502.7,302.0 503.7,302.0C504.7,302.0 506.0,302.1 507.0,302.6C508.0,303.0 509.0,304.6 509.8,304.8C510.5,305.0 511.0,304.7 511.4,303.7C511.8,302.7 511.7,300.0 512.0,298.7C512.2,297.4 512.2,296.8 513.1,296.0C513.9,295.1 515.6,294.5 516.9,293.7C518.3,293.0 519.9,292.3 521.4,291.5C522.8,290.7 524.1,289.7 525.8,289.0C527.5,288.2 529.5,287.3 531.3,287.1C533.2,286.9 535.0,287.5 536.9,287.7C538.7,287.8 540.7,288.0 542.4,287.9C544.0,287.8 545.5,287.6 546.8,287.1C548.1,286.6 549.2,285.4 550.1,284.9C551.1,284.4 551.7,284.0 552.3,284.3C553.0,284.7 553.6,286.5 554.0,287.1C554.4,287.7 554.0,287.9 555.0,288.2C556.0,288.5 559.2,283.5 560.1,288.8C560.9,294.0 560.9,314.8 560.1,319.7C559.2,324.7 556.3,319.3 555.0,318.6C553.7,318.0 553.3,316.8 552.3,315.9C551.3,314.9 550.3,313.8 549.0,313.1C547.7,312.4 546.1,311.5 544.6,311.4C543.1,311.3 541.7,312.0 540.2,312.5C538.7,313.1 537.2,314.5 535.8,314.8C534.3,315.0 532.8,314.7 531.3,314.2C529.9,313.7 528.6,312.7 526.9,312.0C525.2,311.3 523.2,310.4 521.4,309.8C519.5,309.1 517.7,308.6 515.8,308.1C514.0,307.7 512.0,307.5 510.3,307.0C508.7,306.6 507.3,305.8 505.9,305.4C504.5,304.9 502.8,304.7 502.0,304.2C501.2,303.8 500.6,303.0 500.9,302.6Z"/>
<path fill="#00ff55" d="M450.6,315.9C451.3,313.4 453.7,315.4 455.0,315.9C456.3,316.3 457.2,317.7 458.3,318.6C459.4,319.6 460.5,321.1 461.6,321.4C462.7,321.7 463.8,320.7 465.0,320.3C466.1,319.9 467.2,319.5 468.3,319.2C469.4,318.9 470.9,318.2 471.6,318.6C472.2,319.1 472.1,319.9 472.1,321.9C472.2,324.0 475.7,329.3 472.1,330.8C468.6,332.3 454.2,333.3 450.6,330.8C447.0,328.3 449.8,318.4 450.6,315.9Z"/>
<path fill="#ffcc00" d="M527.5,275.5C527.6,274.6 528.3,273.2 529.1,272.2C529.9,271.2 531.1,270.3 532.4,269.4C533.7,268.5 535.6,267.3 536.9,266.6C538.1,266.0 539.5,265.2 540.2,265.3C540.9,265.4 541.0,266.3 541.1,267.2C541.2,268.1 541.2,269.5 540.7,270.5C540.2,271.5 539.1,272.4 538.0,273.3C536.9,274.1 535.3,274.8 534.1,275.5C532.9,276.2 531.8,277.1 530.8,277.5C529.8,277.8 528.6,278.0 528.0,277.7C527.5,277.4 527.3,276.4 527.5,275.5Z"/>
<path fill="#ffcc00" d="M545.2,274.4C545.2,273.4 546.0,272.3 546.8,271.1C547.6,269.9 549.0,268.4 550.1,267.2C551.2,266.0 552.6,264.6 553.5,263.9C554.3,263.1 553.9,263.2 555.0,262.8C556.1,262.3 559.2,259.9 560.1,261.1C560.9,262.3 560.9,268.4 560.1,270.0C559.2,271.5 556.3,270.0 555.0,270.5C553.7,271.1 553.3,272.3 552.3,273.3C551.3,274.3 550.0,275.9 549.0,276.6C548.0,277.2 546.9,277.5 546.3,277.1C545.6,276.8 545.1,275.4 545.2,274.4Z"/>
<path fill="#ffcc00" d="M497.6,258.9C497.3,259.3 498.6,260.3 499.2,261.1C499.9,261.9 500.9,263.3 501.5,263.9C502.1,264.4 502.7,264.8 502.8,264.4C502.9,264.1 502.3,262.6 502.0,261.7C501.7,260.7 501.6,259.4 500.9,258.9C500.2,258.4 497.9,258.5 497.6,258.9Z"/>
<path fill="#ffcc00" d="M507.0,258.9L507.9,261.7L508.8,261.1L508.7,258.9Z"/>
<path fill="#ffcc00" d="M510.9,258.9L511.2,262.4L511.9,262.4L511.9,258.9Z"/>
<path fill="#ffcc00" d="M465.0,304.8C464.9,304.1 465.5,303.8 466.1,304.0C466.6,304.3 467.5,305.5 468.3,306.5C469.0,307.4 469.9,308.9 470.5,309.8C471.1,310.7 471.7,311.5 471.8,312.0C471.9,312.5 471.5,313.1 471.0,312.9C470.5,312.7 469.6,311.7 468.8,310.9C468.1,310.1 467.3,309.1 466.6,308.1C466.0,307.1 465.0,305.5 465.0,304.8Z"/>
<path fill="#ffcc00" d="M474.0,302.6C474.1,302.0 474.9,300.6 475.5,299.8C476.0,299.1 476.7,298.3 477.1,298.2C477.5,298.0 478.1,298.2 478.0,298.7C477.9,299.2 477.1,300.4 476.6,301.2C476.1,301.9 475.3,302.9 474.9,303.1C474.5,303.4 473.9,303.1 474.0,302.6Z"/>
<path fill="#ffcc00" d="M490.2,289.9C490.1,289.2 490.6,288.9 491.0,289.3C491.3,289.8 492.0,291.4 492.4,292.6C492.8,293.8 493.2,295.8 493.2,296.5C493.2,297.2 492.7,297.6 492.4,297.1C492.1,296.5 491.7,294.4 491.3,293.2C490.9,292.0 490.2,290.5 490.2,289.9Z"/>
<path fill="#ffcc00" d="M484.9,326.4C484.0,325.8 485.4,323.8 486.0,323.1C486.5,322.4 487.4,322.3 488.2,322.2C489.0,322.1 490.1,321.8 490.6,322.5C491.1,323.2 492.2,325.7 491.3,326.4C490.3,327.0 485.8,326.9 484.9,326.4Z"/>
</g>
<g clip-path="url(#t11)">
<rect x="555" y="260" width="100" height="65" fill="#eeff00"/>
<path fill="#00ff55" d="M550.6,296.0C551.3,291.9 553.3,295.8 555.0,295.4C556.7,295.0 558.7,294.3 560.5,293.7C562.4,293.2 564.2,292.6 566.1,292.1C567.9,291.5 569.9,291.1 571.6,290.4C573.3,289.8 574.5,289.1 576.0,288.2C577.5,287.3 579.0,286.2 580.4,284.9C581.9,283.6 583.4,281.9 584.9,280.5C586.3,279.0 587.8,277.2 589.3,276.0C590.8,274.8 592.2,274.2 593.7,273.3C595.2,272.4 596.9,271.4 598.1,270.5C599.4,269.6 600.2,268.4 601.5,267.7C602.8,267.1 604.4,267.2 605.9,266.6C607.4,266.1 609.0,265.3 610.3,264.4C611.6,263.6 612.8,262.4 613.6,261.7C614.5,260.9 615.0,261.0 615.3,260.0C615.6,259.0 611.1,256.3 615.3,255.6C619.4,254.8 636.0,254.8 640.2,255.6C644.3,256.3 640.6,258.8 640.2,260.0C639.7,261.2 638.3,261.8 637.4,262.8C636.5,263.7 635.7,264.8 634.6,265.5C633.6,266.3 632.6,266.7 631.3,267.2C630.0,267.7 628.2,268.2 626.9,268.6C625.6,269.1 624.4,269.4 623.6,270.0C622.8,270.5 622.3,271.1 621.9,272.2C621.6,273.3 621.4,275.1 621.4,276.6C621.4,278.1 621.5,279.5 621.9,281.0C622.4,282.5 623.1,284.2 624.1,285.4C625.2,286.7 626.8,287.8 628.0,288.8C629.2,289.7 630.4,290.2 631.3,291.0C632.2,291.7 632.4,292.8 633.5,293.2C634.6,293.6 635.8,293.2 638.0,293.2C640.2,293.2 644.6,293.2 646.8,293.2C649.0,293.2 650.5,286.9 651.2,293.2C652.0,299.5 653.5,324.5 651.2,330.8C649.0,337.1 640.2,331.5 638.0,330.8C635.8,330.1 638.1,327.7 638.0,326.4C637.9,325.1 637.8,324.3 637.4,323.1C637.0,321.8 636.4,320.0 635.8,318.6C635.1,317.2 634.5,315.8 633.5,314.8C632.6,313.7 631.3,313.5 630.2,312.5C629.1,311.6 627.9,310.2 626.9,309.2C625.9,308.2 625.1,307.3 624.1,306.5C623.2,305.6 621.5,305.7 621.4,304.2C621.2,302.8 623.1,299.5 623.4,297.6C623.6,295.8 623.4,294.8 623.0,293.2C622.7,291.6 622.3,289.5 621.4,288.2C620.4,286.9 618.6,285.7 617.5,285.4C616.4,285.2 615.7,286.1 614.7,286.5C613.7,287.0 612.5,287.5 611.4,288.2C610.3,288.9 609.2,290.1 608.1,291.0C607.0,291.8 605.9,292.4 604.8,293.2C603.7,293.9 602.5,294.6 601.5,295.4C600.4,296.2 599.6,297.1 598.7,298.2C597.8,299.3 596.8,300.8 595.9,302.0C595.1,303.2 594.6,304.3 593.7,305.4C592.8,306.4 591.5,307.3 590.4,308.1C589.3,308.9 588.2,309.5 587.1,310.3C586.0,311.2 584.9,312.4 583.8,313.1C582.7,313.8 581.7,314.3 580.4,314.8C579.2,315.2 577.7,315.5 576.0,315.9C574.4,316.2 572.3,316.6 570.5,317.0C568.6,317.3 566.8,317.7 565.0,318.1C563.1,318.4 561.1,318.9 559.4,319.2C557.8,319.5 556.5,319.6 555.0,319.7C553.5,319.8 551.3,323.7 550.6,319.7C549.8,315.8 549.8,300.0 550.6,296.0Z"/>
<path fill="#00ff55" d="M619.4,299.3C619.9,298.7 621.0,298.0 621.2,298.5C621.3,299.0 620.6,300.7 620.3,302.0C619.9,303.4 619.4,305.1 619.2,306.5C618.9,307.8 618.9,309.8 618.6,310.3C618.3,310.9 617.5,310.6 617.3,309.8C617.1,308.9 617.3,306.6 617.5,305.4C617.7,304.1 618.0,303.0 618.3,302.0C618.6,301.0 618.9,299.9 619.4,299.3Z"/>
<path fill="#eeff00" d="M626.9,296.5C626.8,295.7 627.0,294.6 627.5,294.1C627.9,293.5 628.9,293.1 629.7,293.2C630.4,293.3 631.3,293.8 631.9,294.5C632.4,295.3 632.5,296.7 633.0,297.6C633.4,298.5 634.3,299.0 634.6,299.8C635.0,300.7 635.3,301.9 635.2,302.6C635.1,303.2 634.2,304.0 633.8,303.7C633.3,303.4 633.0,301.6 632.4,300.9C631.8,300.3 631.0,300.2 630.2,299.8C629.5,299.5 628.6,299.3 628.0,298.7C627.5,298.2 627.0,297.3 626.9,296.5Z"/>
<path fill="#00ff55" d="M620.8,320.3L621.2,317.7L622.0,317.7L621.9,320.6Z"/>
<path fill="#00eeff" d="M604.8,278.8C604.8,278.0 605.1,276.4 605.7,275.5C606.2,274.5 607.1,273.8 608.1,273.1C609.1,272.3 610.4,271.5 611.4,271.1C612.4,270.6 613.5,270.1 614.2,270.2C614.8,270.3 615.2,270.8 615.3,271.6C615.4,272.4 615.1,273.8 614.7,274.9C614.4,276.0 613.8,277.3 613.1,278.3C612.3,279.2 611.2,280.2 610.3,280.8C609.4,281.3 608.3,281.6 607.5,281.6C606.8,281.5 606.1,280.9 605.7,280.5C605.2,280.0 604.8,279.6 604.8,278.8Z"/>
<path fill="#00eeff" d="M620.8,258.9C619.6,259.5 620.8,262.0 621.4,262.8C621.9,263.5 623.1,263.6 624.1,263.5C625.2,263.5 626.6,262.9 627.5,262.4C628.3,261.9 628.9,261.1 629.1,260.6C629.4,260.0 630.3,259.2 628.9,258.9C627.5,258.6 622.1,258.2 620.8,258.9Z"/>
<path fill="#00eeff" d="M567.7,303.7C567.7,303.1 568.3,302.1 568.8,301.5C569.4,300.9 570.2,300.3 571.0,300.0C571.9,299.8 573.4,299.7 573.8,300.0C574.2,300.4 573.7,301.4 573.3,302.0C572.8,302.7 572.1,303.6 571.4,304.0C570.6,304.5 569.4,304.9 568.8,304.8C568.2,304.7 567.7,304.2 567.7,303.7Z"/>
<path fill="#00eeff" d="M561.9,304.0L563.8,303.8L564.1,304.9L562.1,305.1Z"/>
<path fill="#00ff55" d="M574.9,258.9C573.7,259.4 574.8,261.3 575.5,261.7C576.1,262.1 577.6,261.6 578.8,261.3C580.0,261.1 582.0,260.6 582.7,260.2C583.3,259.8 584.2,259.1 582.9,258.9C581.6,258.7 576.1,258.4 574.9,258.9Z"/>
<path fill="#ffcc00" d="M550.6,255.6C553.0,252.9 562.6,254.8 565.0,255.6C567.4,256.3 565.2,258.7 565.0,260.0C564.7,261.3 564.0,262.2 563.3,263.3C562.6,264.4 561.5,265.5 560.5,266.6C559.5,267.7 558.1,269.2 557.2,270.0C556.3,270.7 556.1,270.8 555.0,271.1C553.9,271.3 551.3,274.2 550.6,271.6C549.8,269.0 548.2,258.2 550.6,255.6Z"/>
<path fill="#ffcc00" d="M569.9,280.5C570.1,279.7 570.7,278.7 571.6,277.7C572.5,276.7 574.2,275.4 575.5,274.4C576.8,273.4 578.1,272.5 579.3,271.6C580.5,270.7 581.6,269.8 582.7,268.8C583.7,267.9 584.6,267.1 585.4,266.1C586.2,265.1 587.0,263.7 587.6,262.8C588.3,261.8 588.7,261.0 589.3,260.6C589.8,260.1 590.4,259.9 591.0,260.0C591.5,260.1 592.4,260.3 592.6,260.9C592.8,261.4 592.5,262.5 592.1,263.3C591.6,264.2 590.5,265.1 589.8,266.1C589.2,267.1 588.8,268.4 588.2,269.4C587.5,270.4 586.9,271.2 586.0,272.2C585.1,273.2 583.8,274.5 582.7,275.5C581.5,276.5 580.4,277.3 579.3,278.3C578.2,279.2 577.1,280.3 576.0,281.0C574.9,281.8 573.6,282.5 572.7,282.7C571.8,282.9 570.9,282.5 570.5,282.1C570.0,281.8 569.7,281.2 569.9,280.5Z"/>
<path fill="#ffcc00" d="M597.0,258.9C595.3,259.3 597.0,260.6 597.6,261.1C598.1,261.7 599.2,262.1 600.4,262.2C601.6,262.3 603.6,262.0 604.8,261.7C606.0,261.3 607.0,260.5 607.5,260.0C608.1,259.5 609.6,259.1 607.9,258.9C606.1,258.7 598.8,258.5 597.0,258.9Z"/>
<path fill="#ffcc00" d="M642.2,286.5C642.0,285.9 642.2,284.6 642.6,283.8C643.0,283.0 643.7,282.1 644.4,281.6C645.1,281.0 645.7,280.7 646.8,280.5C648.0,280.2 650.5,278.6 651.2,279.9C652.0,281.2 652.0,286.9 651.2,288.2C650.5,289.5 648.1,287.9 646.8,287.9C645.5,287.8 644.3,288.1 643.5,287.9C642.7,287.7 642.3,287.2 642.2,286.5Z"/>
<path fill="#00ff55" d="M602.6,326.4C600.1,325.9 603.7,324.4 604.8,323.6C605.9,322.8 607.7,321.9 609.2,321.4C610.7,320.9 612.3,320.7 613.6,320.8C614.9,320.9 616.0,321.4 616.9,321.9C617.9,322.5 618.7,323.4 619.2,324.2C619.6,324.9 622.5,326.0 619.7,326.4C616.9,326.7 605.1,326.8 602.6,326.4Z"/>
</g>
<g clip-path="url(#t12)">
<rect x="255" y="325" width="100" height="70" fill="#eeff00"/>
<path fill="#00ff55" d="M250.6,320.6C259.2,315.2 293.9,319.8 302.6,320.6C311.2,321.3 303.1,323.9 302.6,325.0C302.0,326.1 300.5,326.5 299.2,327.2C298.0,327.9 296.5,329.0 294.8,329.4C293.2,329.9 291.1,330.0 289.3,330.0C287.4,330.0 285.6,329.2 283.8,329.4C281.9,329.6 280.3,330.5 278.2,331.1C276.2,331.6 273.6,332.1 271.6,332.7C269.6,333.4 267.4,334.1 266.1,335.0C264.7,335.8 263.8,336.4 263.3,337.7C262.8,339.0 263.0,340.9 263.0,342.7C262.9,344.5 263.2,346.8 263.0,348.2C262.7,349.6 262.6,350.4 261.6,351.0C260.7,351.6 259.1,351.8 257.2,352.1C255.4,352.4 251.7,357.9 250.6,352.7C249.5,347.4 241.9,325.9 250.6,320.6Z"/>
<path fill="#00ff55" d="M250.6,380.3C251.7,377.7 255.7,380.5 257.2,380.3C258.7,380.1 258.5,379.5 259.4,379.2C260.3,378.9 261.5,378.7 262.7,378.7C264.0,378.7 265.7,379.4 267.2,379.2C268.6,379.0 269.9,377.9 271.6,377.5C273.3,377.2 275.9,377.0 277.1,377.0C278.3,377.0 278.5,376.8 278.8,377.5C279.1,378.3 279.1,380.3 278.8,381.4C278.5,382.5 278.0,383.4 277.1,384.2C276.3,385.0 274.9,385.7 273.8,386.4C272.7,387.0 271.6,387.4 270.5,388.1C269.4,388.7 267.9,389.0 267.2,390.3C266.4,391.6 268.8,394.9 266.1,395.8C263.3,396.7 253.2,398.4 250.6,395.8C248.0,393.2 249.5,382.9 250.6,380.3Z"/>
<path fill="#00ff55" d="M280.2,374.6C280.2,374.2 280.4,373.0 280.7,372.6C280.9,372.1 281.5,371.8 281.8,372.0C282.0,372.2 282.2,373.2 282.1,373.7C282.0,374.2 281.3,374.9 281.0,375.0C280.7,375.1 280.3,375.0 280.2,374.6Z"/>
<path fill="#00ff55" d="M277.7,395.8L278.2,390.3L279.3,386.9L281.0,385.3L286.0,385.3L291.5,385.3L297.0,384.7L300.4,382.5L302.6,380.3L304.8,378.1L307.0,379.8L309.2,377.0L311.4,373.7L313.6,371.5L315.8,370.4L315.3,374.2L314.7,378.1L316.9,374.8L319.2,373.7L321.4,371.5L323.0,369.2L324.1,371.5L325.8,368.7L327.5,367.6L330.2,366.5L334.6,365.9L340.2,366.2L344.6,367.6L349.0,369.2L352.3,371.5L355.0,372.6L360.1,373.1L360.1,386.9L355.0,386.4L351.2,383.6L349.6,383.3L349.0,385.6L344.6,386.7L340.2,387.8L336.3,389.4L333.8,391.0L332.4,395.8Z"/>
<path fill="#00ff55" d="M340.7,346.6C340.9,345.9 341.7,345.4 342.4,345.8C343.0,346.2 343.7,347.6 344.6,348.8C345.5,349.9 346.8,351.5 347.9,352.7C349.0,353.9 350.1,355.0 351.2,356.0C352.4,357.0 353.5,357.8 355.0,358.7C356.5,359.7 359.2,360.1 360.1,361.5C360.9,362.9 360.9,366.4 360.1,367.0C359.2,367.7 356.5,366.0 355.0,365.4C353.5,364.7 352.4,364.0 351.2,363.2C350.1,362.3 348.9,361.4 347.9,360.4C346.9,359.4 346.0,358.2 345.2,357.1C344.3,356.0 343.6,355.0 342.9,353.8C342.3,352.6 341.7,351.1 341.3,349.9C340.9,348.7 340.5,347.3 340.7,346.6Z"/>
</g>
<g clip-path="url(#t13)">
<rect x="355" y="325" width="100" height="70" fill="#eeff00"/>
<path fill="#00ff55" d="M358.9,320.6C356.0,322.4 359.0,329.1 358.9,331.6C358.8,334.2 358.1,334.6 358.3,336.1C358.5,337.5 359.2,339.2 360.0,340.5C360.7,341.8 361.7,342.9 362.7,343.8C363.8,344.7 364.6,345.5 366.1,345.8C367.5,346.1 369.6,345.6 371.6,345.5C373.6,345.3 376.4,345.4 378.2,344.9C380.1,344.5 381.4,343.6 382.7,342.7C383.9,341.8 385.2,340.6 386.0,339.4C386.7,338.2 387.2,336.9 387.3,335.5C387.4,334.1 387.0,332.3 386.5,331.1C386.0,329.9 385.3,329.1 384.3,328.3C383.3,327.5 381.8,326.7 380.4,326.1C379.1,325.6 376.8,325.9 376.0,325.0C375.3,324.1 378.9,321.3 376.0,320.6C373.2,319.8 361.7,318.7 358.9,320.6Z"/>
<path fill="#00ff55" d="M403.7,320.6C394.4,321.3 403.7,323.7 404.2,325.0C404.8,326.3 405.8,327.3 407.0,328.3C408.2,329.3 409.9,330.3 411.4,331.1C412.9,331.9 414.2,332.9 415.8,333.3C417.5,333.7 419.5,333.7 421.4,333.6C423.2,333.6 425.1,333.1 426.9,333.0C428.7,332.9 430.8,332.9 432.4,333.0C434.1,333.1 435.4,333.2 436.9,333.6C438.3,334.1 439.8,334.7 441.3,335.5C442.8,336.3 444.2,337.4 445.7,338.3C447.2,339.2 448.6,340.2 450.1,341.0C451.7,341.9 453.3,342.7 455.0,343.3C456.7,343.8 459.2,348.1 460.1,344.4C460.9,340.6 469.5,324.5 460.1,320.6C450.7,316.6 413.0,319.8 403.7,320.6Z"/>
<path fill="#00eeff" d="M434.1,323.9C432.6,324.3 434.4,325.6 435.2,326.1C436.0,326.6 437.8,327.0 439.1,327.0C440.4,327.0 442.1,326.6 442.9,326.1C443.8,325.6 445.5,324.3 444.0,323.9C442.6,323.5 435.6,323.5 434.1,323.9Z"/>
<path fill="#00ff55" d="M350.6,357.1C351.7,355.1 355.9,357.7 357.2,357.6C358.5,357.6 358.0,356.8 358.3,356.9C358.6,357.0 358.9,357.4 358.9,358.2C358.8,359.0 358.3,360.5 358.1,361.5C357.9,362.5 357.4,364.0 357.8,364.3C358.2,364.5 359.3,363.5 360.5,363.2C361.7,362.9 363.5,362.6 365.0,362.4C366.4,362.2 367.9,362.1 369.4,362.1C370.9,362.1 372.7,362.2 373.8,362.4C374.9,362.6 375.5,362.6 376.0,363.2C376.5,363.8 376.8,365.0 376.9,365.9C377.0,366.9 377.1,368.3 376.6,368.7C376.1,369.1 375.0,368.3 373.8,368.1C372.6,368.0 370.9,367.9 369.4,367.9C367.9,368.0 366.4,368.1 365.0,368.4C363.5,368.6 361.8,368.9 360.5,369.2C359.2,369.6 358.1,370.3 357.2,370.4C356.3,370.4 356.1,370.0 355.0,369.8C353.9,369.6 351.3,371.4 350.6,369.2C349.8,367.1 349.5,359.0 350.6,357.1Z"/>
<path fill="#00ff55" d="M378.8,369.2C378.7,368.4 378.9,367.0 379.3,366.5C379.8,366.0 380.4,366.6 381.5,366.2C382.7,365.7 384.5,364.6 386.0,363.7C387.4,362.9 388.7,361.5 390.4,361.0C392.1,360.4 394.1,360.4 395.9,360.2C397.8,360.0 400.0,360.2 401.5,359.8C402.9,359.5 403.7,358.6 404.8,358.2C405.9,357.7 406.4,357.2 408.1,357.1C409.8,357.0 412.5,357.4 414.7,357.6C416.9,357.8 419.2,357.9 421.4,358.2C423.6,358.5 426.0,359.0 428.0,359.3C430.0,359.6 432.2,359.5 433.5,359.8C434.9,360.2 435.9,360.5 436.3,361.5C436.7,362.5 435.7,364.6 435.8,365.9C435.8,367.2 435.9,368.5 436.9,369.2C437.8,370.0 439.6,370.3 441.3,370.4C442.9,370.4 445.0,370.0 446.8,369.8C448.7,369.6 451.0,369.3 452.3,369.2C453.7,369.2 453.7,369.2 455.0,369.2C456.3,369.2 459.2,364.8 460.1,369.2C460.9,373.7 478.3,391.4 460.1,395.8C441.8,400.2 368.8,398.9 350.6,395.8C332.3,392.7 349.8,379.9 350.6,377.0C351.3,374.0 353.9,377.4 355.0,378.1C356.1,378.8 356.1,380.6 357.2,381.4C358.3,382.2 360.0,382.7 361.6,383.1C363.3,383.4 365.3,383.7 367.2,383.6C369.0,383.5 370.9,382.9 372.7,382.5C374.5,382.2 376.6,381.8 378.2,381.4C379.9,381.0 381.5,380.7 382.7,380.3C383.9,379.9 385.1,379.8 385.4,379.2C385.8,378.6 385.3,377.4 384.6,376.4C384.0,375.5 382.3,374.5 381.5,373.7C380.8,372.8 380.4,372.2 379.9,371.5C379.4,370.7 378.9,370.1 378.8,369.2Z"/>
<path fill="#eeff00" d="M410.3,373.7C410.1,373.1 410.3,371.7 410.9,370.9C411.4,370.1 412.4,369.2 413.6,368.7C414.8,368.1 416.4,367.8 418.1,367.6C419.7,367.3 421.9,367.2 423.6,367.3C425.2,367.3 426.7,367.7 428.0,368.1C429.3,368.6 430.2,369.6 431.3,369.8C432.4,370.0 433.8,369.2 434.6,369.2C435.5,369.2 436.1,369.2 436.3,369.8C436.5,370.4 436.1,371.6 435.8,372.6C435.4,373.5 434.8,374.8 434.1,375.3C433.4,375.9 432.3,376.1 431.3,375.9C430.3,375.7 428.9,374.8 428.0,374.2C427.1,373.7 426.5,372.5 425.8,372.6C425.1,372.7 424.5,374.2 423.6,374.8C422.7,375.3 421.4,375.8 420.3,375.9C419.2,376.0 418.0,375.8 416.9,375.3C415.9,374.9 415.0,373.3 414.2,373.1C413.4,372.9 412.6,374.1 412.0,374.2C411.3,374.3 410.5,374.2 410.3,373.7Z"/>
<path fill="#eeff00" d="M407.9,362.1L409.0,362.1L409.0,365.0L408.1,365.0Z"/>
<path fill="#eeff00" d="M450.1,385.3L451.0,385.1L451.0,386.9L450.1,386.9Z"/>
<path fill="#00eeff" d="M363.3,391.4C362.2,390.9 363.6,389.7 364.4,389.4C365.2,389.0 367.2,389.0 368.3,389.2C369.4,389.3 370.6,389.7 371.0,390.3C371.5,390.8 372.3,392.3 371.0,392.5C369.7,392.7 364.4,391.9 363.3,391.4Z"/>
<path fill="#00eeff" d="M355.6,385.6L357.0,385.3L357.0,388.6L355.9,388.9Z"/>
<path fill="#ffcc00" d="M409.2,342.1C409.2,341.6 410.4,341.5 411.4,341.4C412.4,341.3 414.1,341.3 415.3,341.6C416.5,341.9 417.8,342.7 418.6,343.3C419.4,343.8 420.1,344.4 420.0,344.9C420.0,345.4 418.9,346.0 418.1,346.2C417.2,346.5 415.8,346.8 414.7,346.6C413.6,346.3 412.3,345.6 411.4,344.9C410.5,344.2 409.2,342.7 409.2,342.1Z"/>
</g>
<g clip-path="url(#t14)">
<rect x="455" y="325" width="100" height="70" fill="#00ff55"/>
<path fill="#eeff00" d="M474.4,320.6C460.1,321.3 474.2,323.7 474.4,325.0C474.5,326.3 475.0,327.5 475.5,328.3C475.9,329.1 476.5,330.0 477.1,330.0C477.8,330.0 478.5,328.5 479.3,328.3C480.2,328.1 481.0,328.4 482.1,328.9C483.2,329.3 484.6,330.3 486.0,331.1C487.4,331.8 489.1,332.8 490.4,333.3C491.7,333.8 492.4,334.0 493.7,333.8C495.0,333.7 496.5,332.5 498.1,332.2C499.8,331.9 501.8,331.9 503.7,332.2C505.5,332.5 507.5,333.3 509.2,333.8C510.9,334.4 512.2,335.0 513.6,335.5C515.1,336.1 516.6,336.4 518.1,337.2C519.5,337.9 521.2,339.4 522.5,339.9C523.8,340.5 524.5,340.7 525.8,340.5C527.1,340.3 528.7,339.3 530.2,338.8C531.7,338.4 533.4,338.4 534.6,337.7C535.8,337.1 536.7,336.0 537.4,335.0C538.1,333.9 538.3,332.4 539.1,331.6C539.8,330.9 540.5,330.6 541.8,330.3C543.1,330.0 545.2,329.6 546.8,329.6C548.4,329.7 550.2,330.0 551.2,330.5C552.3,331.0 552.8,331.6 553.2,332.7C553.7,333.8 553.7,335.7 554.0,337.2C554.3,338.6 554.0,340.7 555.0,341.6C556.0,342.5 559.2,346.2 560.1,342.7C560.9,339.2 574.4,324.3 560.1,320.6C545.8,316.9 488.6,319.8 474.4,320.6Z"/>
<path fill="#eeff00" d="M471.4,335.8C471.1,335.3 471.5,333.0 471.8,332.2C472.1,331.4 472.9,331.0 473.3,331.1C473.6,331.2 473.8,332.0 473.8,332.7C473.8,333.5 473.7,335.0 473.3,335.5C472.8,336.0 471.6,336.4 471.4,335.8Z"/>
<path fill="#ffcc00" d="M486.5,323.9C485.9,324.3 486.6,325.7 487.1,326.3C487.5,326.9 488.6,327.5 489.3,327.4C489.9,327.4 490.7,326.7 491.0,326.1C491.2,325.5 491.7,324.3 491.0,323.9C490.2,323.5 487.2,323.5 486.5,323.9Z"/>
<path fill="#eeff00" d="M450.6,343.8C451.3,339.3 453.7,343.8 455.0,344.4C456.3,344.9 457.2,346.3 458.3,347.1C459.4,348.0 460.3,349.1 461.6,349.6C462.9,350.0 464.6,350.1 466.1,349.9C467.5,349.7 469.0,348.8 470.5,348.2C472.0,347.7 473.6,347.3 474.9,346.6C476.2,345.8 477.4,344.4 478.2,343.8C479.1,343.3 479.2,343.0 479.9,343.3C480.6,343.5 481.5,344.6 482.7,345.5C483.9,346.3 485.6,347.6 487.1,348.2C488.6,348.9 489.8,349.2 491.5,349.3C493.2,349.5 495.4,349.0 497.0,349.1C498.7,349.2 500.3,349.3 501.5,349.9C502.7,350.4 503.3,352.0 504.2,352.4C505.1,352.9 506.1,352.7 507.0,352.7C507.9,352.7 508.9,352.2 509.8,352.4C510.6,352.7 511.3,353.5 512.0,354.3C512.6,355.1 513.4,356.1 513.6,357.1C513.9,358.1 514.0,359.5 513.6,360.4C513.3,361.3 512.5,362.1 511.4,362.6C510.3,363.1 508.7,363.1 507.0,363.2C505.3,363.3 503.1,363.0 501.5,363.2C499.8,363.3 498.5,363.8 497.0,364.3C495.6,364.7 494.1,365.6 492.6,365.9C491.1,366.3 489.8,366.7 488.2,366.5C486.5,366.3 484.3,365.0 482.7,364.6C481.0,364.2 479.3,363.9 478.2,364.3C477.1,364.7 476.9,366.1 476.0,367.0C475.1,368.0 474.0,369.1 472.7,369.8C471.4,370.5 469.7,370.9 468.3,371.2C466.8,371.6 465.3,371.8 463.8,372.0C462.4,372.2 460.9,372.7 459.4,372.6C457.9,372.5 456.5,371.6 455.0,371.5C453.5,371.3 451.3,376.1 450.6,371.5C449.8,366.9 449.8,348.3 450.6,343.8Z"/>
<path fill="#eeff00" d="M524.1,360.4C524.0,359.6 524.0,358.6 524.7,357.6C525.3,356.7 526.7,355.9 528.0,354.9C529.3,353.9 531.0,352.4 532.4,351.5C533.9,350.7 535.4,349.9 536.9,349.6C538.3,349.2 540.0,348.8 541.3,349.3C542.6,349.9 543.8,351.6 544.6,352.7C545.4,353.7 545.8,354.5 545.9,355.4C546.0,356.3 545.9,357.5 545.2,358.2C544.4,358.8 542.7,358.9 541.3,359.3C539.9,359.7 538.3,360.0 536.9,360.4C535.4,360.8 533.9,361.1 532.4,361.5C531.0,361.9 529.2,362.5 528.0,362.6C526.8,362.8 525.9,362.8 525.2,362.4C524.6,362.0 524.2,361.2 524.1,360.4Z"/>
<path fill="#eeff00" d="M545.2,370.4C545.0,369.9 544.9,368.3 545.2,367.6C545.4,366.9 546.0,366.5 546.8,365.9C547.6,365.4 548.8,364.7 550.1,364.3C551.5,363.8 553.3,363.4 555.0,363.2C556.7,362.9 559.2,361.7 560.1,362.6C560.9,363.5 560.9,367.7 560.1,368.7C559.2,369.7 556.5,368.6 555.0,368.7C553.5,368.8 552.4,368.9 551.2,369.0C550.1,369.1 548.8,369.0 547.9,369.2C547.1,369.5 546.7,370.4 546.3,370.6C545.8,370.8 545.3,370.9 545.2,370.4Z"/>
<path fill="#eeff00" d="M544.0,380.9C543.9,380.2 544.0,379.1 544.4,378.7C544.7,378.2 545.5,377.8 546.3,377.9C547.0,377.9 548.4,378.4 549.0,379.0C549.7,379.6 550.0,380.6 550.1,381.4C550.2,382.2 550.0,383.3 549.6,383.6C549.1,384.0 548.1,383.8 547.4,383.6C546.6,383.4 545.7,383.0 545.2,382.5C544.6,382.1 544.2,381.5 544.0,380.9Z"/>
<path fill="#eeff00" d="M551.2,378.1C551.4,377.3 552.3,377.2 552.9,377.2C553.5,377.2 553.8,377.7 555.0,377.9C556.2,378.0 559.2,376.6 560.1,378.1C560.9,379.6 560.9,385.5 560.1,386.9C559.2,388.4 556.2,387.2 555.0,386.9C553.8,386.7 553.4,386.1 552.9,385.3C552.4,384.5 552.1,383.2 551.8,382.0C551.5,380.8 551.1,378.9 551.2,378.1Z"/>
<path fill="#eeff00" d="M476.0,391.4C475.0,391.0 477.9,389.8 478.8,389.2C479.7,388.5 480.6,387.9 481.5,387.5C482.5,387.1 483.7,386.8 484.3,386.9C484.9,387.1 485.0,387.9 485.1,388.6C485.2,389.3 486.6,390.9 485.1,391.4C483.6,391.8 477.1,391.7 476.0,391.4Z"/>
<path fill="#eeff00" d="M499.2,391.4C492.4,391.1 501.3,390.1 502.6,389.7C503.9,389.3 505.5,389.3 507.0,389.2C508.5,389.0 509.9,389.0 511.4,388.6C512.9,388.2 514.6,387.5 515.8,386.9C517.1,386.4 517.9,385.7 519.2,385.3C520.4,384.8 521.9,384.4 523.6,384.2C525.2,384.0 527.3,384.1 529.1,384.2C531.0,384.2 532.8,384.3 534.6,384.5C536.5,384.7 538.8,384.9 540.2,385.3C541.6,385.7 542.4,385.9 542.9,386.9C543.5,388.0 550.8,390.6 543.5,391.4C536.2,392.1 506.1,391.6 499.2,391.4Z"/>
<path fill="#eeff00" d="M541.1,375.0L542.2,375.0L542.2,376.1L541.1,376.1Z"/>
<path fill="#eeff00" d="M542.9,368.1L543.8,368.1L543.8,369.2L542.9,369.2Z"/>
</g>
<g clip-path="url(#t15)">
<rect x="555" y="325" width="100" height="70" fill="#eeff00"/>
<path fill="#00ff55" d="M550.6,342.1C551.3,338.4 553.3,341.9 555.0,341.8C556.7,341.7 558.7,341.5 560.5,341.4C562.4,341.2 564.6,341.0 566.1,341.0C567.5,341.1 568.3,341.2 569.4,341.6C570.5,342.0 571.2,342.7 572.7,343.3C574.2,343.8 576.4,344.3 578.2,344.7C580.1,345.1 582.3,345.2 583.8,345.5C585.2,345.8 586.3,346.8 587.1,346.6C587.8,346.4 588.0,345.4 588.2,344.4C588.3,343.3 588.1,341.7 588.0,340.5C587.8,339.3 587.1,338.3 587.1,337.2C587.0,336.1 587.1,334.9 587.6,333.8C588.2,332.8 589.2,332.0 590.4,331.1C591.6,330.2 593.3,329.2 594.8,328.3C596.3,327.4 598.3,326.8 599.2,325.6C600.2,324.3 597.0,321.4 600.4,320.6C603.7,319.7 616.0,319.8 619.2,320.6C622.3,321.3 619.4,323.5 619.4,325.0C619.4,326.5 619.3,327.9 619.2,329.4C619.0,330.9 618.8,332.6 618.6,333.8C618.4,335.1 617.6,336.6 618.1,337.2C618.5,337.8 620.1,337.6 621.4,337.4C622.7,337.2 624.5,336.7 625.8,336.1C627.1,335.5 628.0,334.7 629.1,333.8C630.2,333.0 631.3,332.1 632.4,331.1C633.5,330.1 634.8,328.8 635.8,327.8C636.7,326.8 637.5,326.2 638.0,325.0C638.4,323.8 636.3,321.3 638.5,320.6C640.7,319.8 649.1,315.1 651.2,320.6C653.4,326.0 652.0,347.8 651.2,353.2C650.5,358.6 648.1,353.1 646.8,353.2C645.5,353.3 644.5,353.5 643.5,354.0C642.5,354.4 641.7,355.1 640.7,356.0C639.8,356.9 638.9,358.1 638.0,359.3C637.0,360.5 636.3,362.0 635.2,363.2C634.1,364.4 632.7,365.6 631.3,366.5C629.9,367.4 628.3,368.0 626.9,368.7C625.5,369.3 623.8,369.7 623.0,370.4C622.3,371.0 623.3,372.2 622.5,372.8C621.6,373.3 619.7,373.4 618.1,373.7C616.4,373.9 614.4,374.0 612.5,374.2C610.7,374.4 608.7,374.9 607.0,374.8C605.3,374.7 603.6,374.3 602.6,373.7C601.6,373.0 601.4,371.8 600.9,370.9C600.4,370.0 600.6,368.9 599.8,368.4C599.0,367.8 597.1,367.6 595.9,367.6C594.7,367.6 593.7,367.9 592.6,368.1C591.5,368.4 590.4,368.8 589.3,369.2C588.2,369.7 587.1,370.4 586.0,370.9C584.9,371.5 583.8,372.0 582.7,372.6C581.5,373.1 580.4,373.7 579.3,374.2C578.2,374.8 577.1,375.6 576.0,375.9C574.9,376.2 573.8,376.3 572.7,376.1C571.6,375.9 570.2,375.3 569.4,374.8C568.6,374.3 567.8,373.9 567.7,373.1C567.6,372.4 568.4,371.3 568.8,370.4C569.3,369.4 570.2,368.5 570.5,367.6C570.8,366.7 570.9,365.8 570.5,365.0C570.1,364.3 569.2,363.4 568.3,363.2C567.4,362.9 566.2,363.3 565.0,363.5C563.7,363.7 561.8,364.2 560.5,364.3C559.2,364.3 558.1,363.9 557.2,363.9C556.3,363.9 556.1,364.2 555.0,364.3C553.9,364.3 551.3,368.0 550.6,364.3C549.8,360.6 549.8,345.9 550.6,342.1Z"/>
<path fill="#00ff55" d="M550.6,369.2C551.3,367.5 554.0,369.3 555.0,369.8C556.0,370.3 556.2,371.2 556.7,372.0C557.1,372.8 557.5,373.8 557.8,374.8C558.0,375.8 558.4,377.2 558.3,378.1C558.2,379.0 557.8,379.9 557.2,380.3C556.7,380.7 556.1,380.3 555.0,380.3C553.9,380.3 551.3,382.2 550.6,380.3C549.8,378.5 549.8,371.0 550.6,369.2Z"/>
<path fill="#00ff55" d="M550.6,385.3C551.3,383.6 553.5,385.3 555.0,385.6C556.5,385.9 558.0,386.4 559.4,386.9C560.8,387.4 562.2,387.9 563.3,388.6C564.4,389.3 565.6,389.8 566.1,391.0C566.5,392.2 568.6,395.0 566.1,395.8C563.5,396.6 553.2,397.5 550.6,395.8C548.0,394.0 549.8,387.0 550.6,385.3Z"/>
<path fill="#00ff55" d="M587.1,391.4C586.3,391.1 588.5,390.4 589.3,389.7C590.1,389.1 591.4,387.7 592.1,387.5C592.7,387.3 592.9,388.0 593.2,388.6C593.4,389.3 594.7,390.9 593.7,391.4C592.7,391.8 587.8,391.6 587.1,391.4Z"/>
<path fill="#00ff55" d="M644.0,382.5C644.2,381.8 644.8,381.5 645.2,381.6C645.5,381.8 646.0,382.8 646.3,383.6C646.5,384.4 646.7,385.1 646.8,386.4C646.9,387.7 647.1,390.9 646.8,391.4C646.5,391.8 645.6,390.1 645.2,389.2C644.7,388.2 644.6,386.9 644.4,385.8C644.2,384.7 643.9,383.2 644.0,382.5Z"/>
</g>
</g>
<g shape-rendering="crispEdges" fill="#000">
<rect x="256" y="131" width="392" height="261" fill="none" stroke="#000" stroke-width="2"/>
<rect x="271" y="132" width="1" height="4"/>
<rect x="271" y="388" width="1" height="3"/>
<rect x="286" y="132" width="1" height="4"/>
<rect x="286" y="388" width="1" height="3"/>
<rect x="302" y="132" width="1" height="4"/>
<rect x="302" y="388" width="1" height="3"/>
<rect x="317" y="132" width="1" height="4"/>
<rect x="317" y="388" width="1" height="3"/>
<rect x="331" y="132" width="2" height="9"/>
<rect x="331" y="382" width="2" height="9"/>
<rect x="348" y="132" width="1" height="4"/>
<rect x="348" y="388" width="1" height="3"/>
<rect x="363" y="132" width="1" height="4"/>
<rect x="363" y="388" width="1" height="3"/>
<rect x="378" y="132" width="1" height="4"/>
<rect x="378" y="388" width="1" height="3"/>
<rect x="394" y="132" width="1" height="4"/>
<rect x="394" y="388" width="1" height="3"/>
<rect x="408" y="132" width="2" height="9"/>
<rect x="408" y="382" width="2" height="9"/>
<rect x="424" y="132" width="1" height="4"/>
<rect x="424" y="388" width="1" height="3"/>
<rect x="440" y="132" width="1" height="4"/>
<rect x="440" y="388" width="1" height="3"/>
<rect x="455" y="132" width="1" height="4"/>
<rect x="455" y="388" width="1" height="3"/>
<rect x="470" y="132" width="1" height="4"/>
<rect x="470" y="388" width="1" height="3"/>
<rect x="485" y="132" width="2" height="9"/>
<rect x="485" y="382" width="2" height="9"/>
<rect x="501" y="132" width="1" height="4"/>
<rect x="501" y="388" width="1" height="3"/>
<rect x="516" y="132" width="1" height="4"/>
<rect x="516" y="388" width="1" height="3"/>
<rect x="532" y="132" width="1" height="4"/>
<rect x="532" y="388" width="1" height="3"/>
<rect x="547" y="132" width="1" height="4"/>
<rect x="547" y="388" width="1" height="3"/>
<rect x="561" y="132" width="2" height="9"/>
<rect x="561" y="382" width="2" height="9"/>
<rect x="578" y="132" width="1" height="4"/>
<rect x="578" y="388" width="1" height="3"/>
<rect x="593" y="132" width="1" height="4"/>
<rect x="593" y="388" width="1" height="3"/>
<rect x="608" y="132" width="1" height="4"/>
<rect x="608" y="388" width="1" height="3"/>
<rect x="624" y="132" width="1" height="4"/>
<rect x="624" y="388" width="1" height="3"/>
<rect x="638" y="132" width="2" height="9"/>
<rect x="638" y="382" width="2" height="9"/>
<rect x="257" y="147" width="4" height="1"/>
<rect x="643" y="147" width="4" height="1"/>
<rect x="257" y="165" width="4" height="1"/>
<rect x="643" y="165" width="4" height="1"/>
<rect x="257" y="182" width="4" height="1"/>
<rect x="643" y="182" width="4" height="1"/>
<rect x="257" y="200" width="4" height="1"/>
<rect x="643" y="200" width="4" height="1"/>
<rect x="257" y="217" width="9" height="2"/>
<rect x="638" y="217" width="9" height="2"/>
<rect x="257" y="235" width="4" height="1"/>
<rect x="643" y="235" width="4" height="1"/>
<rect x="257" y="253" width="4" height="1"/>
<rect x="643" y="253" width="4" height="1"/>
<rect x="257" y="270" width="4" height="1"/>
<rect x="643" y="270" width="4" height="1"/>
<rect x="257" y="288" width="4" height="1"/>
<rect x="643" y="288" width="4" height="1"/>
<rect x="257" y="305" width="9" height="2"/>
<rect x="638" y="305" width="9" height="2"/>
<rect x="257" y="323" width="4" height="1"/>
<rect x="643" y="323" width="4" height="1"/>
<rect x="257" y="341" width="4" height="1"/>
<rect x="643" y="341" width="4" height="1"/>
<rect x="257" y="358" width="4" height="1"/>
<rect x="643" y="358" width="4" height="1"/>
<rect x="257" y="376" width="4" height="1"/>
<rect x="643" y="376" width="4" height="1"/>
</g>
<g shape-rendering="crispEdges">
<rect x="664" y="195" width="13" height="20" fill="#ffbbbb"/>
<rect x="664" y="215" width="13" height="19" fill="#ff7777"/>
<rect x="664" y="234" width="13" height="18" fill="#ff1111"/>
<rect x="664" y="252" width="13" height="20" fill="#ff6600"/>
<rect x="664" y="272" width="13" height="6" fill="#ff9900"/>
<rect x="664" y="278" width="13" height="6" fill="#ffcc00"/>
<rect x="664" y="284" width="13" height="6" fill="#eeff00"/>
<rect x="664" y="290" width="13" height="6" fill="#00ff55"/>
<rect x="664" y="296" width="13" height="6" fill="#00eeff"/>
<rect x="664" y="302" width="13" height="6" fill="#0033ff"/>
<rect x="664" y="308" width="13" height="18" fill="#0000aa"/>
<rect x="664" y="326" width="13" height="19" fill="#6600aa"/>
<rect x="664" y="345" width="13" height="18" fill="#bb00aa"/>
<rect x="664" y="363" width="13" height="29" fill="#ee00aa"/>
<rect x="664" y="214" width="13" height="2" fill="#000"/>
<rect x="664" y="233" width="13" height="2" fill="#000"/>
<rect x="664" y="251" width="13" height="2" fill="#000"/>
<rect x="664" y="271" width="13" height="2" fill="#000"/>
<rect x="664" y="277" width="13" height="2" fill="#000"/>
<rect x="664" y="283" width="13" height="2" fill="#000"/>
<rect x="664" y="289" width="13" height="2" fill="#000"/>
<rect x="664" y="295" width="13" height="2" fill="#000"/>
<rect x="664" y="301" width="13" height="2" fill="#000"/>
<rect x="664" y="307" width="13" height="2" fill="#000"/>
<rect x="664" y="325" width="13" height="2" fill="#000"/>
<rect x="664" y="344" width="13" height="2" fill="#000"/>
<rect x="664" y="362" width="13" height="2" fill="#000"/>
<path d="M663,196 L670.6,166 L672.4,166 L678,196 Z" fill="#000"/><path d="M665.9,195 L671.5,172.5 L676.1,195 Z" fill="#ffdddd"/>
<rect x="663" y="195" width="2" height="198" fill="#000"/><rect x="676" y="195" width="2" height="198" fill="#000"/><rect x="663" y="391" width="15" height="2" fill="#000"/><rect x="663" y="195" width="15" height="1" fill="#000"/>
</g>
<g id="labels">
<g class="thin">
<text id="title" word-spacing="8" x="350.5" y="84.3" font-size="29.5" textLength="202.5" lengthAdjust="spacingAndGlyphs">zonal velocity</text>
<text id="tlab" word-spacing="2.5" style="stroke-width:0.15px" x="655" y="143" font-size="16.5" textLength="102.5" lengthAdjust="spacingAndGlyphs">t=169800 s</text>
<text id="xtitle" style="stroke-width:0.4px" x="371.3" y="468.7" font-size="26" textLength="161" lengthAdjust="spacingAndGlyphs">X<tspan textLength="23" lengthAdjust="spacingAndGlyphs">-</tspan>coordinate</text>
<text id="ytitle" style="stroke-width:0.4px" transform="translate(218.1,340.6) rotate(-90)" font-size="26" textLength="159" lengthAdjust="spacingAndGlyphs">Z<tspan textLength="23" lengthAdjust="spacingAndGlyphs">-</tspan>coordinate</text>
</g>
<g class="med" font-size="16">
<text id="yunit" word-spacing="3" x="164" y="107.8" textLength="88.3" lengthAdjust="spacingAndGlyphs">(×1E4 m)</text>
<text id="xunit" word-spacing="3" x="566.2" y="437.4" textLength="89.5" lengthAdjust="spacingAndGlyphs">(×1E5 m)</text>
<text x="326.3" y="414.5" textLength="11.4" lengthAdjust="spacingAndGlyphs">1</text><text x="403.3" y="414.5" textLength="11.4" lengthAdjust="spacingAndGlyphs">2</text><text x="480.0" y="414.5" textLength="11.4" lengthAdjust="spacingAndGlyphs">3</text><text x="556.6" y="414.5" textLength="11.4" lengthAdjust="spacingAndGlyphs">4</text><text x="633.3" y="414.5" textLength="11.4" lengthAdjust="spacingAndGlyphs">5</text>
<text x="234.3" y="223.2" textLength="11.4" lengthAdjust="spacingAndGlyphs">2</text><text x="235" y="311.5" textLength="11.4" lengthAdjust="spacingAndGlyphs">1</text>
<text x="687" y="201.8" textLength="33" lengthAdjust="spacingAndGlyphs">15.1</text><text x="686.6" y="257" textLength="10.5" lengthAdjust="spacingAndGlyphs">6</text><text x="687.5" y="288.5" textLength="10" lengthAdjust="spacingAndGlyphs">1</text><text x="686" y="307" textLength="23.5" lengthAdjust="spacingAndGlyphs"><tspan textLength="12" lengthAdjust="spacingAndGlyphs">-</tspan>2</text><text x="686" y="351" textLength="23.5" lengthAdjust="spacingAndGlyphs"><tspan textLength="12" lengthAdjust="spacingAndGlyphs">-</tspan>9</text>
</g>
</g>
</svg>
</body></html>
